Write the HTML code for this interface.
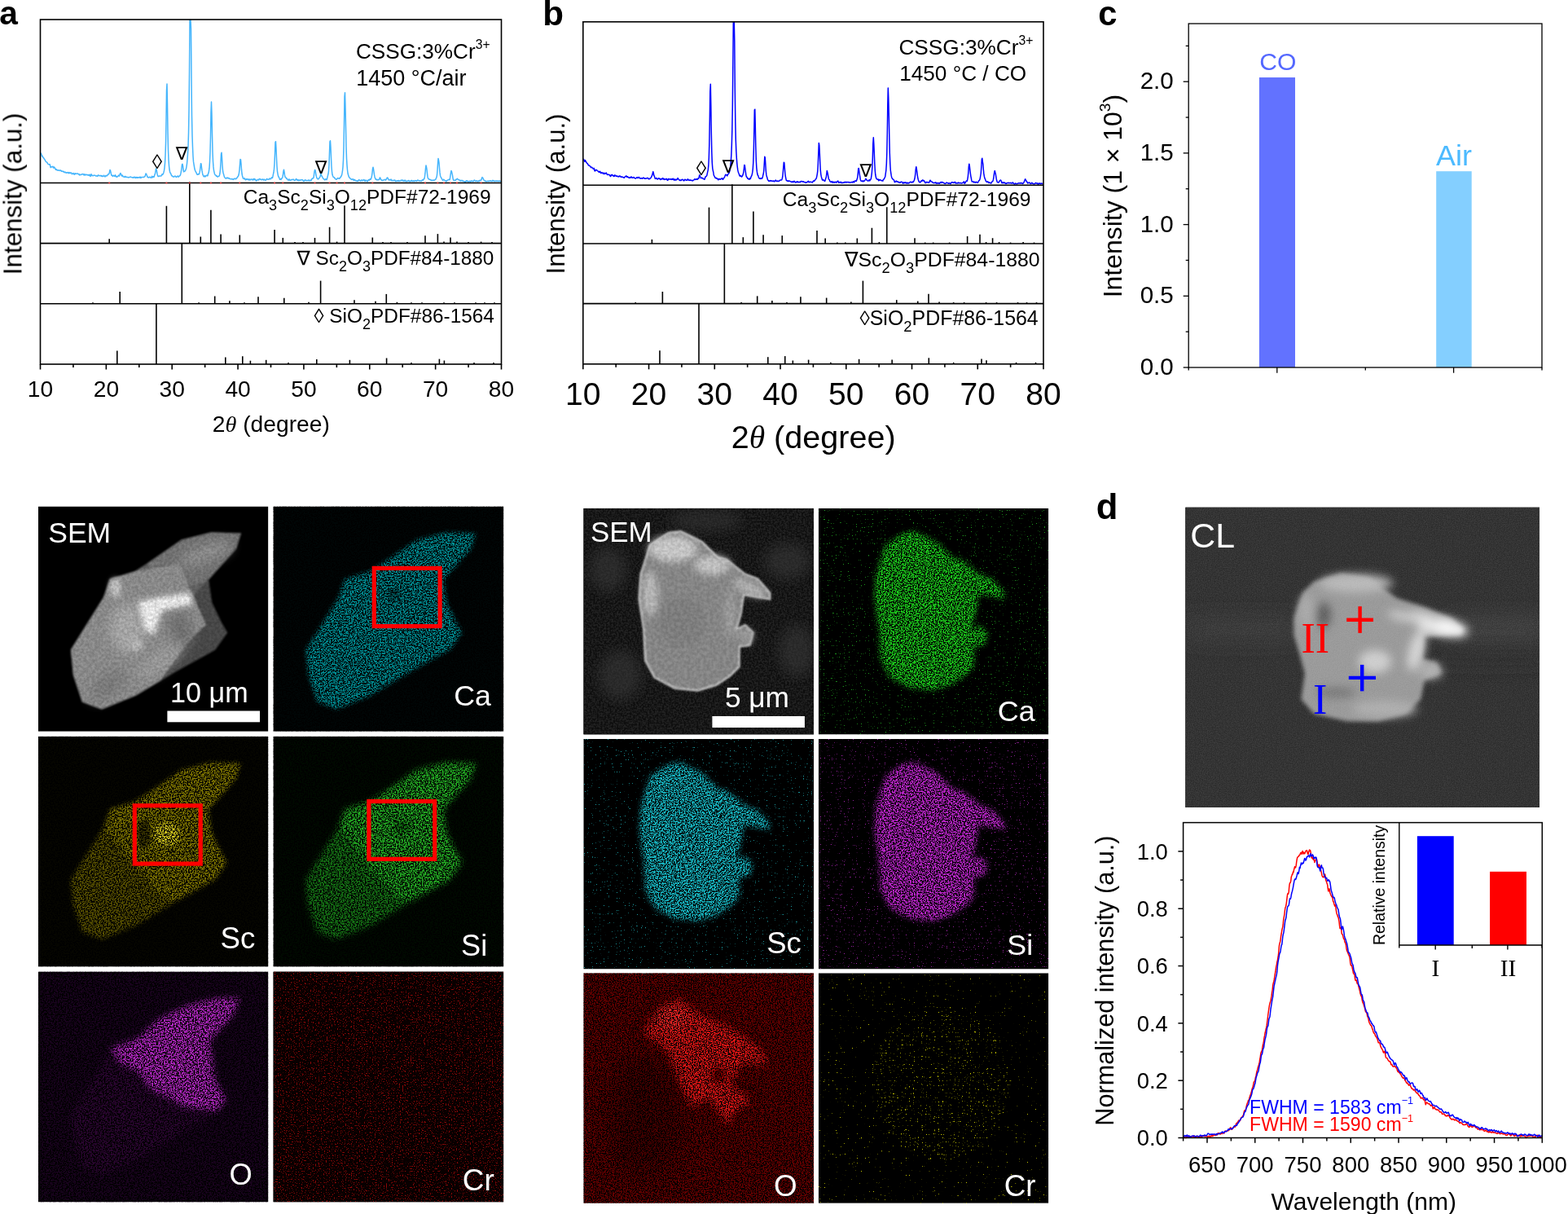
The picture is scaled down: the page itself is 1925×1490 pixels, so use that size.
<!DOCTYPE html>
<html><head><meta charset="utf-8"><title>Figure</title>
<style>html,body{margin:0;padding:0;background:#fff;}svg{display:block;}</style>
</head><body>
<svg width="1925" height="1490" viewBox="0 0 1925 1490">
<defs>
<clipPath id="cp1"><rect x="46.9" y="621.5" width="282.50" height="276.30"/></clipPath>
<filter id="bl1" filterUnits="userSpaceOnUse" x="41.9" y="616.5" width="292.5" height="286.29999999999995"><feGaussianBlur stdDeviation="1.2"/></filter>
<filter id="bl2" filterUnits="userSpaceOnUse" x="41.9" y="616.5" width="292.5" height="286.29999999999995"><feGaussianBlur stdDeviation="3"/></filter>
<filter id="bl3" filterUnits="userSpaceOnUse" x="41.9" y="616.5" width="292.5" height="286.29999999999995"><feGaussianBlur stdDeviation="7"/></filter>
<filter id="md4" filterUnits="userSpaceOnUse" x="46.9" y="621.5" width="282.5" height="276.29999999999995" color-interpolation-filters="sRGB"><feGaussianBlur in="SourceGraphic" stdDeviation="0" result="b"/><feTurbulence type="fractalNoise" baseFrequency="0.3" numOctaves="3" seed="5" result="t"/><feColorMatrix in="t" type="matrix" values="0 0 0 0 0 0 0 0 0 0 0 0 0 0 0 2.0 0 0 0 -0.5" result="m"/><feComposite in="b" in2="m" operator="in"/></filter>
<clipPath id="cp2"><rect x="335.4" y="621.5" width="282.90" height="276.30"/></clipPath>
<filter id="md5" filterUnits="userSpaceOnUse" x="335.4" y="621.5" width="282.9" height="276.29999999999995" color-interpolation-filters="sRGB"><feGaussianBlur in="SourceGraphic" stdDeviation="2.5" result="b"/><feTurbulence type="fractalNoise" baseFrequency="0.6" numOctaves="2" seed="11" result="t"/><feColorMatrix in="t" type="matrix" values="0 0 0 0 0 0 0 0 0 0 0 0 0 0 0 5.0 0 0 0 -2.0" result="m0"/><feGaussianBlur in="m0" stdDeviation="0.7" result="m"/><feComposite in="b" in2="m" operator="in"/></filter>
<clipPath id="cp3"><rect x="46.9" y="903.8" width="282.50" height="282.80"/></clipPath>
<filter id="md6" filterUnits="userSpaceOnUse" x="46.9" y="903.8" width="282.5" height="282.79999999999995" color-interpolation-filters="sRGB"><feGaussianBlur in="SourceGraphic" stdDeviation="2.5" result="b"/><feTurbulence type="fractalNoise" baseFrequency="0.6" numOctaves="2" seed="12" result="t"/><feColorMatrix in="t" type="matrix" values="0 0 0 0 0 0 0 0 0 0 0 0 0 0 0 5.0 0 0 0 -2.0" result="m0"/><feGaussianBlur in="m0" stdDeviation="0.7" result="m"/><feComposite in="b" in2="m" operator="in"/></filter>
<clipPath id="cp4"><rect x="335.4" y="903.8" width="282.90" height="282.80"/></clipPath>
<filter id="md7" filterUnits="userSpaceOnUse" x="335.4" y="903.8" width="282.9" height="282.79999999999995" color-interpolation-filters="sRGB"><feGaussianBlur in="SourceGraphic" stdDeviation="3.5" result="b"/><feTurbulence type="fractalNoise" baseFrequency="0.6" numOctaves="2" seed="13" result="t"/><feColorMatrix in="t" type="matrix" values="0 0 0 0 0 0 0 0 0 0 0 0 0 0 0 5.0 0 0 0 -2.0" result="m0"/><feGaussianBlur in="m0" stdDeviation="0.7" result="m"/><feComposite in="b" in2="m" operator="in"/></filter>
<clipPath id="cp5"><rect x="46.9" y="1192.4" width="282.50" height="283.00"/></clipPath>
<filter id="md8" filterUnits="userSpaceOnUse" x="46.9" y="1192.4" width="282.5" height="283.0" color-interpolation-filters="sRGB"><feGaussianBlur in="SourceGraphic" stdDeviation="3.5" result="b"/><feTurbulence type="fractalNoise" baseFrequency="0.6" numOctaves="2" seed="14" result="t"/><feColorMatrix in="t" type="matrix" values="0 0 0 0 0 0 0 0 0 0 0 0 0 0 0 5.0 0 0 0 -2.0" result="m0"/><feGaussianBlur in="m0" stdDeviation="0.7" result="m"/><feComposite in="b" in2="m" operator="in"/></filter>
<clipPath id="cp6"><rect x="335.4" y="1192.4" width="282.90" height="283.00"/></clipPath>
<filter id="md9" filterUnits="userSpaceOnUse" x="335.4" y="1192.4" width="282.9" height="283.0" color-interpolation-filters="sRGB"><feGaussianBlur in="SourceGraphic" stdDeviation="0" result="b"/><feTurbulence type="fractalNoise" baseFrequency="0.7" numOctaves="1" seed="31" result="t"/><feColorMatrix in="t" type="matrix" values="0 0 0 0 0 0 0 0 0 0 0 0 0 0 0 9 0 0 0 -5.2" result="m"/><feComposite in="b" in2="m" operator="in"/></filter>
<clipPath id="cp7"><rect x="716.3" y="623.8" width="282.70" height="277.80"/></clipPath>
<filter id="bl10" filterUnits="userSpaceOnUse" x="711.3" y="618.8" width="292.70000000000005" height="287.80000000000007"><feGaussianBlur stdDeviation="1.0"/></filter>
<filter id="bl11" filterUnits="userSpaceOnUse" x="711.3" y="618.8" width="292.70000000000005" height="287.80000000000007"><feGaussianBlur stdDeviation="5"/></filter>
<filter id="bl12" filterUnits="userSpaceOnUse" x="711.3" y="618.8" width="292.70000000000005" height="287.80000000000007"><feGaussianBlur stdDeviation="8"/></filter>
<filter id="md13" filterUnits="userSpaceOnUse" x="716.3" y="623.8" width="282.70000000000005" height="277.80000000000007" color-interpolation-filters="sRGB"><feGaussianBlur in="SourceGraphic" stdDeviation="0" result="b"/><feTurbulence type="fractalNoise" baseFrequency="0.45" numOctaves="2" seed="41" result="t"/><feColorMatrix in="t" type="matrix" values="0 0 0 0 0 0 0 0 0 0 0 0 0 0 0 3.0 0 0 0 -1.0" result="m"/><feComposite in="b" in2="m" operator="in"/></filter>
<filter id="md14" filterUnits="userSpaceOnUse" x="716.3" y="623.8" width="282.70000000000005" height="277.80000000000007" color-interpolation-filters="sRGB"><feGaussianBlur in="SourceGraphic" stdDeviation="0" result="b"/><feTurbulence type="fractalNoise" baseFrequency="0.25" numOctaves="3" seed="43" result="t"/><feColorMatrix in="t" type="matrix" values="0 0 0 0 0 0 0 0 0 0 0 0 0 0 0 2.4 0 0 0 -0.7" result="m"/><feComposite in="b" in2="m" operator="in"/></filter>
<clipPath id="cp8"><rect x="1004.8" y="623.8" width="282.50" height="277.80"/></clipPath>
<filter id="md15" filterUnits="userSpaceOnUse" x="1004.8" y="623.8" width="282.5" height="277.80000000000007" color-interpolation-filters="sRGB"><feGaussianBlur in="SourceGraphic" stdDeviation="3.0" result="b"/><feTurbulence type="fractalNoise" baseFrequency="0.62" numOctaves="2" seed="51" result="t"/><feColorMatrix in="t" type="matrix" values="0 0 0 0 0 0 0 0 0 0 0 0 0 0 0 5.5 0 0 0 -2.25" result="m0"/><feGaussianBlur in="m0" stdDeviation="0.6" result="m"/><feComposite in="b" in2="m" operator="in"/></filter>
<filter id="md16" filterUnits="userSpaceOnUse" x="1004.8" y="623.8" width="282.5" height="277.80000000000007" color-interpolation-filters="sRGB"><feGaussianBlur in="SourceGraphic" stdDeviation="0" result="b"/><feTurbulence type="fractalNoise" baseFrequency="0.8" numOctaves="1" seed="101" result="t"/><feColorMatrix in="t" type="matrix" values="0 0 0 0 0 0 0 0 0 0 0 0 0 0 0 14 0 0 0 -9.6" result="m"/><feComposite in="b" in2="m" operator="in"/></filter>
<clipPath id="cp9"><rect x="716.3" y="907" width="282.70" height="282.50"/></clipPath>
<filter id="md17" filterUnits="userSpaceOnUse" x="716.3" y="907" width="282.70000000000005" height="282.5" color-interpolation-filters="sRGB"><feGaussianBlur in="SourceGraphic" stdDeviation="3.0" result="b"/><feTurbulence type="fractalNoise" baseFrequency="0.62" numOctaves="2" seed="52" result="t"/><feColorMatrix in="t" type="matrix" values="0 0 0 0 0 0 0 0 0 0 0 0 0 0 0 5.5 0 0 0 -2.25" result="m0"/><feGaussianBlur in="m0" stdDeviation="0.6" result="m"/><feComposite in="b" in2="m" operator="in"/></filter>
<filter id="md18" filterUnits="userSpaceOnUse" x="716.3" y="907" width="282.70000000000005" height="282.5" color-interpolation-filters="sRGB"><feGaussianBlur in="SourceGraphic" stdDeviation="0" result="b"/><feTurbulence type="fractalNoise" baseFrequency="0.8" numOctaves="1" seed="102" result="t"/><feColorMatrix in="t" type="matrix" values="0 0 0 0 0 0 0 0 0 0 0 0 0 0 0 14 0 0 0 -9.6" result="m"/><feComposite in="b" in2="m" operator="in"/></filter>
<clipPath id="cp10"><rect x="1004.8" y="907" width="282.50" height="282.50"/></clipPath>
<filter id="md19" filterUnits="userSpaceOnUse" x="1004.8" y="907" width="282.5" height="282.5" color-interpolation-filters="sRGB"><feGaussianBlur in="SourceGraphic" stdDeviation="3.0" result="b"/><feTurbulence type="fractalNoise" baseFrequency="0.62" numOctaves="2" seed="53" result="t"/><feColorMatrix in="t" type="matrix" values="0 0 0 0 0 0 0 0 0 0 0 0 0 0 0 5.5 0 0 0 -2.25" result="m0"/><feGaussianBlur in="m0" stdDeviation="0.6" result="m"/><feComposite in="b" in2="m" operator="in"/></filter>
<filter id="md20" filterUnits="userSpaceOnUse" x="1004.8" y="907" width="282.5" height="282.5" color-interpolation-filters="sRGB"><feGaussianBlur in="SourceGraphic" stdDeviation="0" result="b"/><feTurbulence type="fractalNoise" baseFrequency="0.8" numOctaves="1" seed="103" result="t"/><feColorMatrix in="t" type="matrix" values="0 0 0 0 0 0 0 0 0 0 0 0 0 0 0 14 0 0 0 -9.6" result="m"/><feComposite in="b" in2="m" operator="in"/></filter>
<clipPath id="cp11"><rect x="716.3" y="1194.3" width="282.70" height="282.50"/></clipPath>
<filter id="bl21" filterUnits="userSpaceOnUse" x="711.3" y="1189.3" width="292.70000000000005" height="292.5"><feGaussianBlur stdDeviation="14"/></filter>
<filter id="bl22" filterUnits="userSpaceOnUse" x="711.3" y="1189.3" width="292.70000000000005" height="292.5"><feGaussianBlur stdDeviation="5"/></filter>
<filter id="md23" filterUnits="userSpaceOnUse" x="716.3" y="1194.3" width="282.70000000000005" height="282.5" color-interpolation-filters="sRGB"><feGaussianBlur in="SourceGraphic" stdDeviation="0" result="b"/><feTurbulence type="fractalNoise" baseFrequency="0.7" numOctaves="2" seed="61" result="t"/><feColorMatrix in="t" type="matrix" values="0 0 0 0 0 0 0 0 0 0 0 0 0 0 0 5.0 0 0 0 -2.0" result="m0"/><feGaussianBlur in="m0" stdDeviation="0.5" result="m"/><feComposite in="b" in2="m" operator="in"/></filter>
<clipPath id="cp12"><rect x="1004.8" y="1194.3" width="282.50" height="282.50"/></clipPath>
<filter id="bl24" filterUnits="userSpaceOnUse" x="999.8" y="1189.3" width="292.5" height="292.5"><feGaussianBlur stdDeviation="25"/></filter>
<filter id="md25" filterUnits="userSpaceOnUse" x="1004.8" y="1194.3" width="282.5" height="282.5" color-interpolation-filters="sRGB"><feGaussianBlur in="SourceGraphic" stdDeviation="0" result="b"/><feTurbulence type="fractalNoise" baseFrequency="0.8" numOctaves="1" seed="71" result="t"/><feColorMatrix in="t" type="matrix" values="0 0 0 0 0 0 0 0 0 0 0 0 0 0 0 14 0 0 0 -10.0" result="m"/><feComposite in="b" in2="m" operator="in"/></filter>
<filter id="md26" filterUnits="userSpaceOnUse" x="1004.8" y="1194.3" width="282.5" height="282.5" color-interpolation-filters="sRGB"><feGaussianBlur in="SourceGraphic" stdDeviation="0" result="b"/><feTurbulence type="fractalNoise" baseFrequency="0.8" numOctaves="1" seed="72" result="t"/><feColorMatrix in="t" type="matrix" values="0 0 0 0 0 0 0 0 0 0 0 0 0 0 0 14 0 0 0 -9.6" result="m"/><feComposite in="b" in2="m" operator="in"/></filter>
<clipPath id="cp13"><rect x="1455.2" y="622.5" width="434.90" height="368.50"/></clipPath>
<filter id="bl27" filterUnits="userSpaceOnUse" x="1450.2" y="617.5" width="444.89999999999986" height="378.5"><feGaussianBlur stdDeviation="2.5"/></filter>
<filter id="bl28" filterUnits="userSpaceOnUse" x="1450.2" y="617.5" width="444.89999999999986" height="378.5"><feGaussianBlur stdDeviation="6"/></filter>
<filter id="bl29" filterUnits="userSpaceOnUse" x="1450.2" y="617.5" width="444.89999999999986" height="378.5"><feGaussianBlur stdDeviation="15"/></filter>
<filter id="md30" filterUnits="userSpaceOnUse" x="1455.2" y="622.5" width="434.89999999999986" height="368.5" color-interpolation-filters="sRGB"><feGaussianBlur in="SourceGraphic" stdDeviation="0" result="b"/><feTurbulence type="fractalNoise" baseFrequency="0.8" numOctaves="2" seed="81" result="t"/><feColorMatrix in="t" type="matrix" values="0 0 0 0 0 0 0 0 0 0 0 0 0 0 0 2.0 0 0 0 -0.5" result="m"/><feComposite in="b" in2="m" operator="in"/></filter>
</defs>
<rect width="1925" height="1490" fill="#fff"/>
<g clip-path="url(#cp1)"><rect x="46.9" y="621.5" width="282.50" height="276.30" fill="#000"/><g filter="url(#bl1)"><path d="M86.9,797.5 L126.9,733.5 L134.9,710.5 L164.9,701.5 L180.9,691.5 L222.9,662.5 L258.9,653.5 L295.9,654.5 L289.9,673.5 L255.9,711.5 L259.9,739.5 L271.9,764.5 L278.9,776.5 L263.9,797.5 L214.9,824.5 L166.9,853.5 L124.9,870.5 L100.9,861.5 L89.9,828.5Z" fill="#6a6a6a"/><path d="M180.9,691.5 L222.9,662.5 L258.9,653.5 L295.9,654.5 L289.9,673.5 L255.9,711.5 L236.9,717.5 L196.9,716.5Z" fill="#7c7c7c"/><path d="M86.9,797.5 L126.9,733.5 L134.9,710.5 L164.9,701.5 L196.9,696.5 L220.9,691.5 L233.9,725.5 L253.9,758.5 L252.9,766.5 L226.9,791.5 L196.9,835.5 L166.9,853.5 L124.9,870.5 L100.9,861.5 L89.9,828.5Z" fill="#969696"/><path d="M236.9,731.5 L255.9,711.5 L259.9,739.5 L271.9,764.5 L278.9,776.5 L263.9,797.5 L214.9,824.5 L196.9,835.5 L226.9,791.5 L252.9,766.5Z" fill="#505050"/></g><g filter="url(#bl3)"><ellipse cx="156.9" cy="771.5" rx="22" ry="30" fill="#b4b4b4"/><ellipse cx="251.9" cy="679.5" rx="34" ry="10" transform="rotate(-20 251.9 679.5)" fill="#9a9a9a"/><ellipse cx="196.9" cy="811.5" rx="34" ry="10" transform="rotate(-35 196.9 811.5)" fill="#a8a8a8"/><ellipse cx="131.9" cy="841.5" rx="26" ry="12" transform="rotate(-40 131.9 841.5)" fill="#848484"/><ellipse cx="221.9" cy="771.5" rx="14" ry="22" transform="rotate(-20 221.9 771.5)" fill="#7a7a7a"/></g><g filter="url(#bl2)"><path d="M168.9,738.5 L196.9,732.5 L232.9,727.5 L236.9,741.5 L198.9,749.5 L188.9,779.5 L177.9,773.5 Z" fill="#fafafa"/><ellipse cx="141.9" cy="721.5" rx="7" ry="12" fill="#d0d0d0"/><ellipse cx="166.9" cy="791.5" rx="9" ry="6" fill="#c8c8c8"/></g><g filter="url(#md4)" opacity="0.18"><path d="M86.9,797.5 L126.9,733.5 L134.9,710.5 L164.9,701.5 L180.9,691.5 L222.9,662.5 L258.9,653.5 L295.9,654.5 L289.9,673.5 L255.9,711.5 L259.9,739.5 L271.9,764.5 L278.9,776.5 L263.9,797.5 L214.9,824.5 L166.9,853.5 L124.9,870.5 L100.9,861.5 L89.9,828.5Z" fill="#000"/></g><rect x="205.4" y="872.5" width="113.6" height="13.8" fill="#fff"/></g>
<g clip-path="url(#cp2)"><rect x="335.4" y="621.5" width="282.90" height="276.30" fill="#000"/><g filter="url(#md5)"><rect x="335.4" y="621.5" width="282.90" height="276.30" fill="#000606"/><path d="M375.4,797.5 L415.4,733.5 L423.4,710.5 L453.4,701.5 L469.4,691.5 L511.4,662.5 L547.4,653.5 L584.4,654.5 L578.4,673.5 L544.4,711.5 L548.4,739.5 L560.4,764.5 L567.4,776.5 L552.4,797.5 L503.4,824.5 L455.4,853.5 L413.4,870.5 L389.4,861.5 L378.4,828.5Z" fill="#008e94"/><ellipse cx="483.4" cy="729.5" rx="10" ry="8" fill="#006064"/></g><rect x="459.3" y="697.4" width="80.8" height="71.2" fill="none" stroke="#f00" stroke-width="5.2"/></g>
<g clip-path="url(#cp3)"><rect x="46.9" y="903.8" width="282.50" height="282.80" fill="#000"/><g filter="url(#md6)"><rect x="46.9" y="903.8" width="282.50" height="282.80" fill="#060600"/><path d="M86.9,1079.8 L126.9,1015.8 L134.9,992.8 L164.9,983.8 L180.9,973.8 L222.9,944.8 L258.9,935.8 L295.9,936.8 L289.9,955.8 L255.9,993.8 L259.9,1021.8 L271.9,1046.8 L278.9,1058.8 L263.9,1079.8 L214.9,1106.8 L166.9,1135.8 L124.9,1152.8 L100.9,1143.8 L89.9,1110.8Z" fill="#807600"/><path d="M86.9,1079.8 L126.9,1015.8 L134.9,1023.8 L166.9,1063.8 L196.9,1098.8 L214.9,1106.8 L166.9,1135.8 L124.9,1152.8 L100.9,1143.8 L89.9,1110.8Z" fill="#5a5200"/><ellipse cx="204.9" cy="1023.8" rx="16" ry="14" fill="#d8cc20"/><ellipse cx="176.9" cy="1023.8" rx="8" ry="18" fill="#3a3500"/></g><rect x="165.3" y="988.8" width="80.9" height="71.3" fill="none" stroke="#f00" stroke-width="5.2"/></g>
<g clip-path="url(#cp4)"><rect x="335.4" y="903.8" width="282.90" height="282.80" fill="#000"/><g filter="url(#md7)"><rect x="335.4" y="903.8" width="282.90" height="282.80" fill="#000a00"/><path d="M375.4,1079.8 L415.4,1015.8 L423.4,992.8 L453.4,983.8 L469.4,973.8 L511.4,944.8 L547.4,935.8 L584.4,936.8 L578.4,955.8 L544.4,993.8 L548.4,1021.8 L560.4,1046.8 L567.4,1058.8 L552.4,1079.8 L503.4,1106.8 L455.4,1135.8 L413.4,1152.8 L389.4,1143.8 L378.4,1110.8Z" fill="#24b024"/><path d="M375.4,1079.8 L415.4,1015.8 L423.4,1023.8 L455.4,1063.8 L485.4,1098.8 L503.4,1106.8 L455.4,1135.8 L413.4,1152.8 L389.4,1143.8 L378.4,1110.8Z" fill="#167816"/><ellipse cx="493.4" cy="1015.8" rx="9" ry="8" fill="#0f700f"/></g><rect x="452.9" y="983.5" width="80.8" height="70.9" fill="none" stroke="#f00" stroke-width="5.2"/></g>
<g clip-path="url(#cp5)"><rect x="46.9" y="1192.4" width="282.50" height="283.00" fill="#000"/><g filter="url(#md8)"><rect x="46.9" y="1192.4" width="282.50" height="283.00" fill="#1a031f"/><path d="M86.9,1368.4 L126.9,1304.4 L134.9,1281.4 L164.9,1272.4 L180.9,1262.4 L222.9,1233.4 L258.9,1224.4 L295.9,1225.4 L289.9,1244.4 L255.9,1282.4 L259.9,1310.4 L271.9,1335.4 L278.9,1347.4 L263.9,1368.4 L214.9,1395.4 L166.9,1424.4 L124.9,1441.4 L100.9,1432.4 L89.9,1399.4Z" fill="#2c0632"/><path d="M136.6,1286.3 L169.3,1274.8 L192.4,1251.7 L229.0,1234.3 L267.6,1224.7 L294.6,1224.7 L284.9,1247.8 L257.9,1276.7 L263.7,1324.9 L277.2,1349.9 L267.6,1363.4 L229.0,1359.6 L184.7,1336.4 L169.3,1315.2 L146.2,1303.7Z" fill="#b828c8"/></g></g>
<g clip-path="url(#cp6)"><rect x="335.4" y="1192.4" width="282.90" height="283.00" fill="#000"/><rect x="335.4" y="1192.4" width="282.9" height="283.0" fill="#080000"/><g filter="url(#md9)"><rect x="335.4" y="1192.4" width="282.90" height="283.00" fill="#8a0808"/></g></g>
<g clip-path="url(#cp7)"><rect x="716.3" y="623.8" width="282.70" height="277.80" fill="#000"/><rect x="716.3" y="623.8" width="282.70" height="277.80" fill="#0e0e0e"/><g filter="url(#bl12)" fill="#262626"><ellipse cx="746.3" cy="698.8" rx="22" ry="28"/><ellipse cx="761.3" cy="828.8" rx="26" ry="30"/><ellipse cx="966.3" cy="688.8" rx="28" ry="22"/><ellipse cx="978.3" cy="798.8" rx="22" ry="32"/><ellipse cx="866.3" cy="638.8" rx="45" ry="12"/></g><g filter="url(#md13)" opacity="0.45"><rect x="716.3" y="623.8" width="282.70" height="277.80" fill="#3c3c3c"/></g><g filter="url(#bl10)"><path d="M786.7,705.0 L798.0,669.2 L820.6,654.1 L835.7,652.2 L862.1,665.4 L881.0,684.2 L892.3,687.1 L914.9,705.0 L930.0,710.6 L945.1,727.6 L945.1,735.2 L913.0,729.5 L909.3,754.0 L903.6,772.9 L914.9,767.2 L924.4,776.7 L920.6,791.7 L907.4,793.6 L907.4,818.2 L896.1,829.5 L879.1,840.8 L856.5,847.4 L828.2,844.6 L803.6,831.4 L792.3,810.6 L790.4,772.9 L784.8,735.2Z" fill="#8e8e8e" stroke="#c8c8c8" stroke-width="2.5"/></g><g filter="url(#bl11)"><ellipse cx="826.3" cy="673.8" rx="30" ry="16" fill="#d2d2d2"/><ellipse cx="874.3" cy="693.8" rx="22" ry="12" fill="#cccccc"/><ellipse cx="798.3" cy="728.8" rx="9" ry="28" fill="#c4c4c4"/><ellipse cx="919.3" cy="721.8" rx="22" ry="7" transform="rotate(25 919.3 721.8)" fill="#c0c0c0"/><ellipse cx="896.3" cy="753.8" rx="6" ry="30" fill="#a8a8a8"/><ellipse cx="916.3" cy="780.8" rx="8" ry="8" fill="#a8a8a8"/><ellipse cx="836.3" cy="763.8" rx="30" ry="30" fill="#868686"/></g><g filter="url(#md14)" opacity="0.12"><path d="M786.7,705.0 L798.0,669.2 L820.6,654.1 L835.7,652.2 L862.1,665.4 L881.0,684.2 L892.3,687.1 L914.9,705.0 L930.0,710.6 L945.1,727.6 L945.1,735.2 L913.0,729.5 L909.3,754.0 L903.6,772.9 L914.9,767.2 L924.4,776.7 L920.6,791.7 L907.4,793.6 L907.4,818.2 L896.1,829.5 L879.1,840.8 L856.5,847.4 L828.2,844.6 L803.6,831.4 L792.3,810.6 L790.4,772.9 L784.8,735.2Z" fill="#000"/></g><rect x="874.4" y="879" width="113.5" height="14" fill="#fff"/></g>
<g clip-path="url(#cp8)"><rect x="1004.8" y="623.8" width="282.50" height="277.80" fill="#000"/><g filter="url(#md16)"><rect x="1004.8" y="623.8" width="282.50" height="277.80" fill="#1f9a1f"/></g><g filter="url(#md15)"><path d="M1075.2,705.0 L1086.5,669.2 L1109.1,654.1 L1124.2,652.2 L1150.6,665.4 L1169.5,684.2 L1180.8,687.1 L1203.4,705.0 L1218.5,710.6 L1233.6,727.6 L1233.6,735.2 L1201.5,729.5 L1197.8,754.0 L1192.1,772.9 L1203.4,767.2 L1212.9,776.7 L1209.1,791.7 L1195.9,793.6 L1195.9,818.2 L1184.6,829.5 L1167.6,840.8 L1145.0,847.4 L1116.7,844.6 L1092.1,831.4 L1080.8,810.6 L1078.9,772.9 L1073.3,735.2Z" fill="#1ccc1c"/></g></g>
<g clip-path="url(#cp9)"><rect x="716.3" y="907" width="282.70" height="282.50" fill="#000"/><g filter="url(#md18)"><rect x="716.3" y="907" width="282.70" height="282.50" fill="#1a9aa0"/></g><g filter="url(#md17)"><path d="M786.7,988.2 L798.0,952.4 L820.6,937.3 L835.7,935.4 L862.1,948.6 L881.0,967.4 L892.3,970.3 L914.9,988.2 L930.0,993.8 L945.1,1010.8 L945.1,1018.4 L913.0,1012.7 L909.3,1037.2 L903.6,1056.1 L914.9,1050.4 L924.4,1059.9 L920.6,1074.9 L907.4,1076.8 L907.4,1101.4 L896.1,1112.7 L879.1,1124.0 L856.5,1130.6 L828.2,1127.8 L803.6,1114.6 L792.3,1093.8 L790.4,1056.1 L784.8,1018.4Z" fill="#18bcc8"/></g></g>
<g clip-path="url(#cp10)"><rect x="1004.8" y="907" width="282.50" height="282.50" fill="#000"/><g filter="url(#md20)"><rect x="1004.8" y="907" width="282.50" height="282.50" fill="#a024aa"/></g><g filter="url(#md19)"><path d="M1075.2,988.2 L1086.5,952.4 L1109.1,937.3 L1124.2,935.4 L1150.6,948.6 L1169.5,967.4 L1180.8,970.3 L1203.4,988.2 L1218.5,993.8 L1233.6,1010.8 L1233.6,1018.4 L1201.5,1012.7 L1197.8,1037.2 L1192.1,1056.1 L1203.4,1050.4 L1212.9,1059.9 L1209.1,1074.9 L1195.9,1076.8 L1195.9,1101.4 L1184.6,1112.7 L1167.6,1124.0 L1145.0,1130.6 L1116.7,1127.8 L1092.1,1114.6 L1080.8,1093.8 L1078.9,1056.1 L1073.3,1018.4Z" fill="#c026d0"/></g></g>
<g clip-path="url(#cp11)"><rect x="716.3" y="1194.3" width="282.70" height="282.50" fill="#000"/><g filter="url(#md23)"><rect x="716.3" y="1194.3" width="282.70" height="282.50" fill="#680000"/><g filter="url(#bl21)"><ellipse cx="791.3" cy="1369.3" rx="45" ry="75" fill="#4a0000"/><ellipse cx="916.3" cy="1234.3" rx="50" ry="25" fill="#700000"/></g><g filter="url(#bl22)"><path d="M810.6,1236.8 L834.5,1224.9 L855.4,1242.8 L900.2,1263.7 L930.0,1284.6 L945.0,1305.5 L909.1,1305.5 L897.2,1332.4 L912.1,1341.3 L921.1,1353.3 L900.2,1365.2 L894.2,1383.2 L870.3,1347.3 L849.4,1359.3 L837.5,1335.4 L819.5,1290.6 L789.7,1266.7Z" fill="#f01818"/><ellipse cx="882.3" cy="1319.3" rx="10" ry="12" fill="#700000"/><ellipse cx="824.3" cy="1249.3" rx="20" ry="14" fill="#ff2626"/></g></g></g>
<g clip-path="url(#cp12)"><rect x="1004.8" y="1194.3" width="282.50" height="282.50" fill="#000"/><g filter="url(#md25)"><rect x="1004.8" y="1194.3" width="282.50" height="282.50" fill="#c8c800"/></g><g filter="url(#md26)"><ellipse cx="1154.8" cy="1329.3" rx="85" ry="95" fill="#c8c800"/></g></g>
<g clip-path="url(#cp13)"><rect x="1455.2" y="622.5" width="434.90" height="368.50" fill="#000"/><rect x="1455.2" y="622.5" width="434.90" height="368.50" fill="#2b2b2b"/><g filter="url(#bl29)"><rect x="1455.2" y="764" width="140" height="16" fill="#3c3c3c"/><rect x="1780" y="765" width="120" height="13" fill="#4e4e4e"/><rect x="1750" y="784" width="150" height="24" fill="#272727"/></g><g filter="url(#bl27)"><path d="M1588.3,758.8 L1599.6,727.1 L1613.2,713.6 L1647.1,703.4 L1681.0,709.0 L1714.9,733.9 L1748.8,745.2 L1782.7,758.8 L1796.3,772.3 L1794.0,779.1 L1748.8,781.4 L1746.5,808.5 L1764.6,813.0 L1769.1,826.6 L1748.8,835.6 L1744.3,858.2 L1726.2,876.3 L1692.3,885.3 L1653.9,885.3 L1613.2,876.3 L1597.4,858.2 L1601.9,826.6 L1595.1,801.7 L1588.3,779.1Z" fill="#969696"/></g><g filter="url(#bl28)"><ellipse cx="1770" cy="769" rx="33" ry="11" transform="rotate(12 1770 769)" fill="#f6f6f6"/><ellipse cx="1748" cy="760" rx="22" ry="8" transform="rotate(15 1748 760)" fill="#dedede"/><ellipse cx="1725" cy="757" rx="22" ry="6" transform="rotate(12 1725 757)" fill="#c8c8c8"/><ellipse cx="1688" cy="812" rx="20" ry="14" fill="#cccccc"/><ellipse cx="1739" cy="798" rx="9" ry="26" transform="rotate(15 1739 798)" fill="#d4d4d4"/><ellipse cx="1757" cy="824" rx="14" ry="9" fill="#b0b0b0"/><ellipse cx="1604" cy="750" rx="9" ry="20" fill="#a8a8a8"/><ellipse cx="1625" cy="755" rx="9" ry="16" fill="#585858"/><ellipse cx="1665" cy="716" rx="45" ry="11" fill="#b8b8b8"/><ellipse cx="1700" cy="870" rx="40" ry="10" fill="#acacac"/><ellipse cx="1640" cy="850" rx="25" ry="6" fill="#707070"/></g><g filter="url(#md30)" opacity="0.09"><rect x="1455.2" y="622.5" width="434.90" height="368.50" fill="#ffffff"/></g><g stroke-width="4.4"><line x1="1653.2" y1="760.7" x2="1685.9" y2="760.7" stroke="#f00"/><line x1="1669.6" y1="744.2" x2="1669.6" y2="776.9" stroke="#f00"/><line x1="1655.8" y1="831.9" x2="1689" y2="831.9" stroke="#00f"/><line x1="1672.2" y1="815.9" x2="1672.2" y2="848.3" stroke="#00f"/></g></g>
<polyline points="50.0,187.8 50.5,188.4 51.0,190.0 51.5,191.7 52.0,191.4 52.5,192.3 53.0,193.6 53.5,193.8 54.0,194.5 54.5,195.3 55.0,196.1 55.5,196.7 56.0,198.0 56.5,198.5 57.0,198.9 57.5,198.9 58.0,199.7 58.5,200.7 59.0,201.4 59.5,201.6 60.0,201.8 60.5,202.0 61.0,201.6 61.5,202.6 62.0,205.3 62.5,205.6 63.0,204.7 63.5,204.7 64.0,204.7 64.5,204.5 65.0,204.3 65.5,206.1 66.0,206.1 66.5,205.0 67.0,205.6 67.5,206.4 68.0,207.6 68.5,208.4 69.0,207.8 69.5,207.9 70.0,208.9 70.5,208.9 71.0,208.8 71.5,209.2 72.0,209.1 72.5,209.0 73.0,209.2 73.5,209.5 74.0,209.1 74.5,209.0 75.0,209.6 75.5,210.3 76.0,210.0 76.5,210.3 77.0,210.2 77.5,210.8 78.0,210.4 78.5,210.9 79.0,211.7 79.5,211.5 80.0,211.2 80.5,211.3 81.0,212.1 81.5,212.3 82.0,211.8 82.5,211.9 83.0,211.6 83.5,211.7 84.0,212.8 84.5,212.0 85.0,211.5 85.5,212.4 86.0,212.7 86.5,212.1 87.0,212.0 87.5,212.1 88.0,213.0 88.5,213.7 89.0,213.2 89.5,213.0 90.0,212.6 90.5,213.1 91.0,214.2 91.5,214.0 92.0,212.8 92.5,212.8 93.0,213.6 93.5,213.4 94.0,213.1 94.5,213.0 95.0,212.9 95.5,213.3 96.0,213.7 96.5,213.7 97.0,213.6 97.5,214.9 98.0,214.4 98.5,214.2 99.0,214.7 99.5,214.2 100.0,214.2 100.5,213.8 101.0,213.9 101.5,213.6 102.0,213.4 102.5,214.0 103.0,215.0 103.5,215.0 104.0,213.7 104.5,214.3 105.0,214.9 105.5,214.6 106.0,214.5 106.5,214.2 107.0,214.5 107.5,214.8 108.0,215.0 108.5,214.8 109.0,215.2 109.5,214.4 110.0,214.2 110.5,215.9 111.0,216.5 111.5,214.6 112.0,213.7 112.5,215.3 113.0,215.8 113.5,215.2 114.0,215.6 114.5,215.7 115.0,215.4 115.5,215.1 116.0,215.3 116.5,215.2 117.0,215.5 117.5,215.9 118.0,215.9 118.5,216.0 119.0,215.8 119.5,216.3 120.0,216.0 120.5,214.9 121.0,215.3 121.5,215.5 122.0,215.4 122.5,215.8 123.0,215.8 123.5,215.4 124.0,215.7 124.5,216.1 125.0,215.6 125.5,216.1 126.0,216.6 126.5,216.5 127.0,215.9 127.5,215.2 128.0,216.1 128.5,216.3 129.0,216.9 129.5,216.0 130.0,215.4 130.5,215.8 131.0,216.0 131.5,215.5 132.0,214.9 132.5,214.4 133.0,213.6 133.5,213.8 134.0,213.1 134.5,210.8 135.0,208.6 135.5,209.2 136.0,211.5 136.5,213.7 137.0,215.3 137.5,215.1 138.0,215.9 138.5,216.4 139.0,215.6 139.5,215.2 140.0,215.7 140.5,216.2 141.0,216.3 141.5,214.8 142.0,215.6 142.5,217.0 143.0,217.0 143.5,216.7 144.0,217.1 144.5,216.5 145.0,216.2 145.5,215.2 146.0,215.3 146.5,216.1 147.0,214.4 147.5,213.2 148.0,212.5 148.5,213.7 149.0,215.1 149.5,216.0 150.0,215.1 150.5,215.3 151.0,216.8 151.5,216.8 152.0,217.1 152.5,217.2 153.0,217.3 153.5,216.4 154.0,217.2 154.5,217.3 155.0,217.0 155.5,217.4 156.0,217.5 156.5,217.5 157.0,217.5 157.5,217.9 158.0,217.7 158.5,217.5 159.0,217.5 159.5,217.4 160.0,217.3 160.5,217.0 161.0,217.4 161.5,217.6 162.0,217.8 162.5,218.0 163.0,218.1 163.5,217.6 164.0,218.1 164.5,218.0 165.0,217.3 165.5,217.3 166.0,218.0 166.5,218.5 167.0,217.6 167.5,217.6 168.0,218.1 168.5,217.5 169.0,218.0 169.5,218.3 170.0,217.8 170.5,217.6 171.0,217.8 171.5,218.1 172.0,217.0 172.5,217.9 173.0,218.4 173.5,217.6 174.0,217.6 174.5,217.5 175.0,217.6 175.5,217.5 176.0,217.4 176.5,217.5 177.0,216.9 177.5,217.0 178.0,216.6 178.5,214.9 179.0,213.1 179.5,213.2 180.0,214.5 180.5,215.6 181.0,217.4 181.5,217.7 182.0,217.5 182.5,218.0 183.0,217.6 183.5,217.3 184.0,217.2 184.5,217.9 185.0,217.9 185.5,217.9 186.0,218.1 186.5,216.3 187.0,217.3 187.5,217.6 188.0,216.7 188.5,217.0 189.0,217.3 189.5,215.7 190.0,214.3 190.5,213.1 191.0,210.0 191.5,206.9 192.0,208.0 192.5,210.4 193.0,213.2 193.5,215.4 194.0,216.5 194.5,216.6 195.0,216.6 195.5,216.0 196.0,216.0 196.5,215.9 197.0,216.0 197.5,216.0 198.0,216.0 198.5,214.9 199.0,213.9 199.5,214.4 200.0,214.0 200.5,212.9 201.0,211.5 201.5,209.4 202.0,205.8 202.5,200.4 203.0,190.9 203.5,175.7 204.0,147.6 204.5,111.1 205.0,103.0 205.5,127.2 206.0,161.2 206.5,184.1 207.0,196.2 207.5,203.3 208.0,208.0 208.5,210.5 209.0,212.4 209.5,212.6 210.0,213.9 210.5,215.2 211.0,215.9 211.5,216.0 212.0,216.3 212.5,217.0 213.0,217.1 213.5,216.9 214.0,216.8 214.5,216.2 215.0,216.1 215.5,216.6 216.0,216.9 216.5,217.4 217.0,216.8 217.5,216.6 218.0,216.2 218.5,216.1 219.0,217.3 219.5,216.7 220.0,216.4 220.5,215.7 221.0,215.7 221.5,214.6 222.0,212.5 222.5,209.8 223.0,206.0 223.5,201.9 224.0,201.3 224.5,203.7 225.0,208.0 225.5,210.8 226.0,210.6 226.5,210.3 227.0,210.0 227.5,209.5 228.0,208.2 228.5,207.1 229.0,204.3 229.5,201.1 230.0,195.8 230.5,188.9 231.0,179.7 231.5,163.3 232.0,135.6 232.5,89.1 233.0,24.6 233.5,24.6 234.0,24.6 234.5,35.2 235.0,96.1 235.5,141.3 236.0,166.2 236.5,180.5 237.0,191.8 237.5,198.4 238.0,201.6 238.5,204.5 239.0,207.6 239.5,209.1 240.0,210.3 240.5,210.9 241.0,212.2 241.5,212.9 242.0,214.2 242.5,214.4 243.0,214.2 243.5,213.6 244.0,213.7 244.5,213.7 245.0,211.9 245.5,209.3 246.0,205.4 246.5,200.7 247.0,201.1 247.5,205.6 248.0,209.4 248.5,212.4 249.0,214.5 249.5,215.3 250.0,216.6 250.5,216.8 251.0,216.4 251.5,215.8 252.0,216.9 252.5,216.3 253.0,215.6 253.5,215.4 254.0,215.1 254.5,215.9 255.0,215.7 255.5,213.5 256.0,212.3 256.5,210.0 257.0,206.2 257.5,198.7 258.0,187.5 258.5,168.0 259.0,138.0 259.5,125.1 260.0,140.1 260.5,165.3 261.0,186.1 261.5,197.9 262.0,204.9 262.5,209.1 263.0,211.3 263.5,213.5 264.0,214.5 264.5,214.8 265.0,215.2 265.5,216.1 266.0,215.8 266.5,216.4 267.0,217.0 267.5,217.1 268.0,216.4 268.5,216.2 269.0,216.2 269.5,215.0 270.0,212.5 270.5,208.0 271.0,199.3 271.5,189.1 272.0,187.3 272.5,193.9 273.0,203.0 273.5,209.1 274.0,212.1 274.5,213.7 275.0,215.6 275.5,217.2 276.0,217.9 276.5,218.6 277.0,219.0 277.5,219.0 278.0,218.6 278.5,218.1 279.0,218.7 279.5,218.3 280.0,218.3 280.5,218.9 281.0,218.6 281.5,219.0 282.0,219.6 282.5,219.6 283.0,219.6 283.5,219.8 284.0,219.8 284.5,219.6 285.0,219.6 285.5,220.1 286.0,220.1 286.5,220.4 287.0,219.7 287.5,219.3 288.0,219.4 288.5,219.3 289.0,219.3 289.5,219.7 290.0,219.4 290.5,218.7 291.0,218.1 291.5,217.6 292.0,216.5 292.5,216.4 293.0,214.8 293.5,212.2 294.0,208.6 294.5,202.0 295.0,195.5 295.5,195.9 296.0,201.1 296.5,208.2 297.0,213.0 297.5,215.7 298.0,217.3 298.5,219.0 299.0,218.8 299.5,219.2 300.0,219.6 300.5,218.9 301.0,220.2 301.5,220.7 302.0,220.5 302.5,219.8 303.0,220.2 303.5,219.8 304.0,219.7 304.5,220.2 305.0,220.9 305.5,220.5 306.0,219.8 306.5,220.8 307.0,221.0 307.5,220.5 308.0,220.0 308.5,220.1 309.0,220.2 309.5,220.7 310.0,220.1 310.5,220.3 311.0,220.9 311.5,219.7 312.0,219.3 312.5,220.5 313.0,220.4 313.5,220.1 314.0,221.3 314.5,221.9 315.0,221.6 315.5,221.1 316.0,220.8 316.5,220.3 317.0,220.6 317.5,221.0 318.0,220.2 318.5,219.4 319.0,219.6 319.5,219.9 320.0,220.3 320.5,220.3 321.0,220.8 321.5,220.4 322.0,220.3 322.5,220.0 323.0,220.3 323.5,221.0 324.0,220.5 324.5,220.1 325.0,221.0 325.5,221.1 326.0,221.2 326.5,221.1 327.0,220.0 327.5,219.5 328.0,219.7 328.5,220.1 329.0,220.2 329.5,220.2 330.0,220.3 330.5,219.6 331.0,219.1 331.5,219.2 332.0,219.7 332.5,219.5 333.0,218.9 333.5,217.8 334.0,218.1 334.5,218.4 335.0,216.3 335.5,213.7 336.0,211.5 336.5,207.4 337.0,200.5 337.5,188.7 338.0,174.6 338.5,173.7 339.0,182.0 339.5,194.2 340.0,204.2 340.5,210.3 341.0,213.3 341.5,215.8 342.0,217.2 342.5,217.5 343.0,219.0 343.5,220.3 344.0,219.8 344.5,219.6 345.0,220.5 345.5,219.5 346.0,218.8 346.5,218.6 347.0,217.2 347.5,213.9 348.0,209.9 348.5,208.3 349.0,210.8 349.5,214.9 350.0,217.1 350.5,217.6 351.0,217.9 351.5,219.0 352.0,219.4 352.5,219.2 353.0,220.1 353.5,220.8 354.0,221.3 354.5,220.7 355.0,219.9 355.5,221.0 356.0,221.2 356.5,221.4 357.0,220.9 357.5,220.5 358.0,220.8 358.5,220.5 359.0,220.4 359.5,220.4 360.0,220.0 360.5,220.4 361.0,221.1 361.5,221.5 362.0,221.4 362.5,221.0 363.0,220.7 363.5,219.5 364.0,219.8 364.5,220.9 365.0,221.0 365.5,220.6 366.0,221.8 366.5,221.4 367.0,220.9 367.5,221.4 368.0,221.5 368.5,221.2 369.0,220.8 369.5,220.9 370.0,220.8 370.5,220.8 371.0,220.8 371.5,220.7 372.0,221.5 372.5,222.2 373.0,222.4 373.5,222.2 374.0,221.4 374.5,220.7 375.0,220.9 375.5,221.5 376.0,221.7 376.5,221.5 377.0,221.4 377.5,221.6 378.0,221.8 378.5,221.3 379.0,220.9 379.5,221.8 380.0,221.7 380.5,221.8 381.0,221.1 381.5,221.3 382.0,221.6 382.5,220.4 383.0,219.3 383.5,219.3 384.0,218.7 384.5,218.7 385.0,218.1 385.5,214.6 386.0,210.7 386.5,208.5 387.0,208.8 387.5,211.4 388.0,215.0 388.5,216.9 389.0,218.6 389.5,219.0 390.0,219.7 390.5,219.7 391.0,219.8 391.5,218.8 392.0,218.4 392.5,217.6 393.0,217.0 393.5,214.7 394.0,213.0 394.5,215.3 395.0,216.1 395.5,216.6 396.0,217.8 396.5,218.6 397.0,219.4 397.5,219.6 398.0,220.2 398.5,220.8 399.0,220.8 399.5,220.1 400.0,219.7 400.5,219.9 401.0,220.7 401.5,219.5 402.0,217.4 402.5,215.3 403.0,213.3 403.5,209.8 404.0,202.3 404.5,187.3 405.0,173.9 405.5,172.8 406.0,180.7 406.5,193.4 407.0,204.3 407.5,210.5 408.0,214.3 408.5,215.8 409.0,216.9 409.5,217.5 410.0,217.6 410.5,217.9 411.0,218.9 411.5,219.0 412.0,219.9 412.5,220.2 413.0,220.2 413.5,220.0 414.0,219.1 414.5,218.7 415.0,218.6 415.5,219.0 416.0,219.0 416.5,219.2 417.0,219.1 417.5,218.0 418.0,217.4 418.5,217.1 419.0,215.9 419.5,215.1 420.0,212.7 420.5,209.6 421.0,204.8 421.5,196.3 422.0,180.0 422.5,152.6 423.0,118.6 423.5,113.7 424.0,131.8 424.5,154.8 425.0,179.4 425.5,194.2 426.0,202.6 426.5,208.5 427.0,212.5 427.5,214.6 428.0,216.1 428.5,217.6 429.0,217.9 429.5,218.3 430.0,219.2 430.5,219.5 431.0,219.7 431.5,220.3 432.0,220.4 432.5,219.9 433.0,219.9 433.5,219.8 434.0,221.1 434.5,221.5 435.0,220.5 435.5,220.4 436.0,221.3 436.5,221.8 437.0,221.6 437.5,222.0 438.0,221.9 438.5,222.3 439.0,222.0 439.5,222.3 440.0,221.5 440.5,220.7 441.0,221.1 441.5,221.1 442.0,221.7 442.5,222.1 443.0,222.0 443.5,221.2 444.0,221.0 444.5,220.9 445.0,221.8 445.5,221.7 446.0,221.2 446.5,220.5 447.0,220.5 447.5,221.6 448.0,222.3 448.5,222.2 449.0,221.1 449.5,221.3 450.0,221.7 450.5,221.9 451.0,222.8 451.5,222.3 452.0,221.0 452.5,220.8 453.0,221.0 453.5,221.2 454.0,220.2 454.5,219.6 455.0,220.2 455.5,219.5 456.0,218.2 456.5,215.8 457.0,212.1 457.5,207.1 458.0,205.3 458.5,207.3 459.0,210.5 459.5,214.2 460.0,216.9 460.5,218.4 461.0,219.8 461.5,220.2 462.0,220.0 462.5,220.7 463.0,220.8 463.5,220.5 464.0,220.6 464.5,220.7 465.0,220.6 465.5,220.5 466.0,219.0 466.5,217.9 467.0,218.8 467.5,220.2 468.0,220.5 468.5,221.2 469.0,221.3 469.5,221.4 470.0,221.6 470.5,221.0 471.0,221.1 471.5,220.9 472.0,220.7 472.5,220.3 473.0,220.4 473.5,221.1 474.0,220.4 474.5,219.8 475.0,218.5 475.5,218.0 476.0,218.3 476.5,219.2 477.0,220.6 477.5,221.0 478.0,221.0 478.5,220.6 479.0,220.7 479.5,221.0 480.0,220.0 480.5,221.2 481.0,221.8 481.5,221.5 482.0,221.3 482.5,221.6 483.0,221.8 483.5,221.3 484.0,221.4 484.5,221.0 485.0,221.2 485.5,222.4 486.0,222.7 486.5,222.4 487.0,221.9 487.5,221.8 488.0,221.9 488.5,222.2 489.0,221.6 489.5,221.4 490.0,222.3 490.5,222.2 491.0,221.9 491.5,222.0 492.0,221.8 492.5,221.0 493.0,221.0 493.5,221.5 494.0,221.8 494.5,221.0 495.0,221.5 495.5,222.2 496.0,222.3 496.5,221.9 497.0,221.0 497.5,221.5 498.0,222.2 498.5,222.8 499.0,222.1 499.5,222.5 500.0,222.5 500.5,222.0 501.0,222.1 501.5,221.5 502.0,221.6 502.5,222.6 503.0,222.5 503.5,222.7 504.0,222.1 504.5,221.8 505.0,222.2 505.5,221.4 506.0,222.0 506.5,222.5 507.0,222.1 507.5,221.8 508.0,222.4 508.5,222.3 509.0,222.4 509.5,221.6 510.0,221.7 510.5,221.9 511.0,221.7 511.5,222.4 512.0,222.0 512.5,221.1 513.0,221.4 513.5,221.2 514.0,221.6 514.5,222.1 515.0,221.9 515.5,221.8 516.0,222.0 516.5,222.1 517.0,222.2 517.5,222.2 518.0,221.4 518.5,220.8 519.0,220.8 519.5,221.2 520.0,220.1 520.5,219.6 521.0,219.1 521.5,216.4 522.0,212.2 522.5,206.5 523.0,203.0 523.5,205.0 524.0,207.9 524.5,212.6 525.0,217.2 525.5,218.7 526.0,219.3 526.5,220.1 527.0,220.1 527.5,220.3 528.0,220.5 528.5,220.4 529.0,221.2 529.5,221.0 530.0,221.5 530.5,221.6 531.0,221.2 531.5,221.3 532.0,221.0 532.5,221.4 533.0,221.2 533.5,221.1 534.0,220.7 534.5,220.4 535.0,219.9 535.5,218.5 536.0,217.7 536.5,215.0 537.0,209.1 537.5,200.8 538.0,194.5 538.5,196.5 539.0,199.7 539.5,206.0 540.0,211.9 540.5,215.4 541.0,216.8 541.5,218.1 542.0,218.7 542.5,219.5 543.0,220.6 543.5,221.4 544.0,221.3 544.5,220.2 545.0,220.4 545.5,221.0 546.0,221.5 546.5,221.7 547.0,221.7 547.5,222.1 548.0,222.6 548.5,221.9 549.0,221.5 549.5,221.2 550.0,220.9 550.5,220.6 551.0,220.4 551.5,220.2 552.0,220.7 552.5,218.7 553.0,215.0 553.5,212.0 554.0,209.5 554.5,210.6 555.0,212.8 555.5,215.1 556.0,218.6 556.5,220.6 557.0,221.3 557.5,221.6 558.0,221.3 558.5,221.2 559.0,221.3 559.5,221.2 560.0,220.0 560.5,220.2 561.0,219.9 561.5,219.3 562.0,220.0 562.5,220.5 563.0,220.6 563.5,220.7 564.0,220.9 564.5,221.3 565.0,222.1 565.5,222.0 566.0,221.2 566.5,221.8 567.0,221.8 567.5,221.5 568.0,221.6 568.5,222.6 569.0,222.6 569.5,222.4 570.0,222.7 570.5,223.3 571.0,223.0 571.5,223.4 572.0,222.4 572.5,221.8 573.0,222.0 573.5,222.5 574.0,222.1 574.5,222.6 575.0,223.0 575.5,223.0 576.0,222.7 576.5,222.2 577.0,222.2 577.5,223.1 578.0,222.6 578.5,221.9 579.0,221.9 579.5,222.2 580.0,222.7 580.5,222.3 581.0,222.8 581.5,222.2 582.0,221.3 582.5,221.1 583.0,221.6 583.5,221.9 584.0,222.4 584.5,222.3 585.0,221.8 585.5,222.0 586.0,222.4 586.5,222.8 587.0,222.2 587.5,221.9 588.0,222.4 588.5,222.1 589.0,221.2 589.5,221.4 590.0,221.6 590.5,221.5 591.0,220.4 591.5,218.5 592.0,217.5 592.5,218.5 593.0,218.6 593.5,220.3 594.0,221.1 594.5,221.1 595.0,221.8 595.5,222.3 596.0,222.1 596.5,222.2 597.0,222.9 597.5,222.6 598.0,222.4 598.5,222.3 599.0,222.1 599.5,222.5 600.0,222.5 600.5,222.2 601.0,222.0 601.5,222.1 602.0,221.8 602.5,222.3 603.0,222.0 603.5,222.5 604.0,222.5 604.5,221.9 605.0,221.3 605.5,221.7 606.0,222.2 606.5,221.9 607.0,222.4 607.5,222.7 608.0,222.3 608.5,222.1 609.0,222.0 609.5,222.4 610.0,222.2 610.5,222.0 611.0,222.2 611.5,222.5 612.0,222.6 612.5,222.1 613.0,222.1 613.5,222.2 614.0,222.5 614.5,222.6 615.0,222.9" fill="none" stroke="#45b5fc" stroke-width="1.5" stroke-linejoin="round"/>
<line x1="134.20" y1="298.60" x2="134.20" y2="293.31" stroke="#000" stroke-width="1.6"/>
<line x1="204.40" y1="298.60" x2="204.40" y2="252.76" stroke="#000" stroke-width="1.6"/>
<line x1="232.80" y1="298.60" x2="232.80" y2="223.50" stroke="#000" stroke-width="1.6"/>
<line x1="246.30" y1="298.60" x2="246.30" y2="290.51" stroke="#000" stroke-width="1.6"/>
<line x1="258.90" y1="298.60" x2="258.90" y2="257.85" stroke="#000" stroke-width="1.6"/>
<line x1="271.10" y1="298.60" x2="271.10" y2="287.42" stroke="#000" stroke-width="1.6"/>
<line x1="294.30" y1="298.60" x2="294.30" y2="288.41" stroke="#000" stroke-width="1.6"/>
<line x1="337.10" y1="298.60" x2="337.10" y2="282.12" stroke="#000" stroke-width="1.6"/>
<line x1="347.30" y1="298.60" x2="347.30" y2="291.91" stroke="#000" stroke-width="1.6"/>
<line x1="362.00" y1="298.60" x2="362.00" y2="297.10" stroke="#000" stroke-width="1.6"/>
<line x1="372.00" y1="298.60" x2="372.00" y2="297.10" stroke="#000" stroke-width="1.6"/>
<line x1="386.50" y1="298.60" x2="386.50" y2="291.91" stroke="#000" stroke-width="1.6"/>
<line x1="404.60" y1="298.60" x2="404.60" y2="278.73" stroke="#000" stroke-width="1.6"/>
<line x1="413.60" y1="298.60" x2="413.60" y2="296.60" stroke="#000" stroke-width="1.6"/>
<line x1="423.00" y1="298.60" x2="423.00" y2="252.36" stroke="#000" stroke-width="1.6"/>
<line x1="457.30" y1="298.60" x2="457.30" y2="291.51" stroke="#000" stroke-width="1.6"/>
<line x1="470.00" y1="298.60" x2="470.00" y2="297.10" stroke="#000" stroke-width="1.6"/>
<line x1="480.00" y1="298.60" x2="480.00" y2="297.10" stroke="#000" stroke-width="1.6"/>
<line x1="500.00" y1="298.60" x2="500.00" y2="297.10" stroke="#000" stroke-width="1.6"/>
<line x1="522.00" y1="298.60" x2="522.00" y2="289.31" stroke="#000" stroke-width="1.6"/>
<line x1="537.40" y1="298.60" x2="537.40" y2="287.12" stroke="#000" stroke-width="1.6"/>
<line x1="545.00" y1="298.60" x2="545.00" y2="296.60" stroke="#000" stroke-width="1.6"/>
<line x1="553.00" y1="298.60" x2="553.00" y2="291.61" stroke="#000" stroke-width="1.6"/>
<line x1="561.00" y1="298.60" x2="561.00" y2="296.60" stroke="#000" stroke-width="1.6"/>
<line x1="575.00" y1="298.60" x2="575.00" y2="297.10" stroke="#000" stroke-width="1.6"/>
<line x1="590.60" y1="298.60" x2="590.60" y2="296.60" stroke="#000" stroke-width="1.6"/>
<line x1="604.00" y1="298.60" x2="604.00" y2="297.10" stroke="#000" stroke-width="1.6"/>
<line x1="114.00" y1="372.80" x2="114.00" y2="371.30" stroke="#000" stroke-width="1.6"/>
<line x1="147.20" y1="372.80" x2="147.20" y2="358.10" stroke="#000" stroke-width="1.6"/>
<line x1="223.30" y1="372.80" x2="223.30" y2="298.60" stroke="#000" stroke-width="1.6"/>
<line x1="244.10" y1="372.80" x2="244.10" y2="371.30" stroke="#000" stroke-width="1.6"/>
<line x1="263.70" y1="372.80" x2="263.70" y2="363.50" stroke="#000" stroke-width="1.6"/>
<line x1="281.90" y1="372.80" x2="281.90" y2="369.20" stroke="#000" stroke-width="1.6"/>
<line x1="300.00" y1="372.80" x2="300.00" y2="371.30" stroke="#000" stroke-width="1.6"/>
<line x1="317.00" y1="372.80" x2="317.00" y2="364.30" stroke="#000" stroke-width="1.6"/>
<line x1="348.80" y1="372.80" x2="348.80" y2="365.70" stroke="#000" stroke-width="1.6"/>
<line x1="379.00" y1="372.80" x2="379.00" y2="370.80" stroke="#000" stroke-width="1.6"/>
<line x1="393.60" y1="372.80" x2="393.60" y2="344.60" stroke="#000" stroke-width="1.6"/>
<line x1="435.00" y1="372.80" x2="435.00" y2="368.30" stroke="#000" stroke-width="1.6"/>
<line x1="461.00" y1="372.80" x2="461.00" y2="369.80" stroke="#000" stroke-width="1.6"/>
<line x1="474.30" y1="372.80" x2="474.30" y2="360.90" stroke="#000" stroke-width="1.6"/>
<line x1="487.40" y1="372.80" x2="487.40" y2="370.80" stroke="#000" stroke-width="1.6"/>
<line x1="505.00" y1="372.80" x2="505.00" y2="371.30" stroke="#000" stroke-width="1.6"/>
<line x1="518.00" y1="372.80" x2="518.00" y2="371.30" stroke="#000" stroke-width="1.6"/>
<line x1="545.00" y1="372.80" x2="545.00" y2="371.30" stroke="#000" stroke-width="1.6"/>
<line x1="558.00" y1="372.80" x2="558.00" y2="371.30" stroke="#000" stroke-width="1.6"/>
<line x1="584.00" y1="372.80" x2="584.00" y2="371.30" stroke="#000" stroke-width="1.6"/>
<line x1="595.00" y1="372.80" x2="595.00" y2="371.30" stroke="#000" stroke-width="1.6"/>
<line x1="607.00" y1="372.80" x2="607.00" y2="371.30" stroke="#000" stroke-width="1.6"/>
<line x1="143.80" y1="447.00" x2="143.80" y2="430.40" stroke="#000" stroke-width="1.6"/>
<line x1="191.90" y1="447.00" x2="191.90" y2="372.80" stroke="#000" stroke-width="1.6"/>
<line x1="276.80" y1="447.00" x2="276.80" y2="438.40" stroke="#000" stroke-width="1.6"/>
<line x1="297.80" y1="447.00" x2="297.80" y2="437.30" stroke="#000" stroke-width="1.6"/>
<line x1="307.40" y1="447.00" x2="307.40" y2="442.70" stroke="#000" stroke-width="1.6"/>
<line x1="326.70" y1="447.00" x2="326.70" y2="441.80" stroke="#000" stroke-width="1.6"/>
<line x1="354.00" y1="447.00" x2="354.00" y2="445.00" stroke="#000" stroke-width="1.6"/>
<line x1="388.80" y1="447.00" x2="388.80" y2="441.00" stroke="#000" stroke-width="1.6"/>
<line x1="429.40" y1="447.00" x2="429.40" y2="441.80" stroke="#000" stroke-width="1.6"/>
<line x1="474.60" y1="447.00" x2="474.60" y2="439.50" stroke="#000" stroke-width="1.6"/>
<line x1="505.00" y1="447.00" x2="505.00" y2="445.00" stroke="#000" stroke-width="1.6"/>
<line x1="539.40" y1="447.00" x2="539.40" y2="440.60" stroke="#000" stroke-width="1.6"/>
<line x1="545.40" y1="447.00" x2="545.40" y2="442.50" stroke="#000" stroke-width="1.6"/>
<line x1="582.00" y1="447.00" x2="582.00" y2="445.00" stroke="#000" stroke-width="1.6"/>
<line x1="606.00" y1="447.00" x2="606.00" y2="445.00" stroke="#000" stroke-width="1.6"/>
<rect x="49.5" y="24" width="566.00" height="423.00" fill="none" stroke="#000" stroke-width="1.6"/>
<line x1="49.50" y1="224.50" x2="615.50" y2="224.50" stroke="#000" stroke-width="1.6"/>
<line x1="49.50" y1="298.60" x2="615.50" y2="298.60" stroke="#000" stroke-width="1.6"/>
<line x1="49.50" y1="372.80" x2="615.50" y2="372.80" stroke="#000" stroke-width="1.6"/>
<line x1="49.50" y1="447.00" x2="49.50" y2="453.50" stroke="#000" stroke-width="1.6"/>
<line x1="89.93" y1="447.00" x2="89.93" y2="451.00" stroke="#000" stroke-width="1.6"/>
<line x1="130.36" y1="447.00" x2="130.36" y2="453.50" stroke="#000" stroke-width="1.6"/>
<line x1="170.79" y1="447.00" x2="170.79" y2="451.00" stroke="#000" stroke-width="1.6"/>
<line x1="211.21" y1="447.00" x2="211.21" y2="453.50" stroke="#000" stroke-width="1.6"/>
<line x1="251.64" y1="447.00" x2="251.64" y2="451.00" stroke="#000" stroke-width="1.6"/>
<line x1="292.07" y1="447.00" x2="292.07" y2="453.50" stroke="#000" stroke-width="1.6"/>
<line x1="332.50" y1="447.00" x2="332.50" y2="451.00" stroke="#000" stroke-width="1.6"/>
<line x1="372.93" y1="447.00" x2="372.93" y2="453.50" stroke="#000" stroke-width="1.6"/>
<line x1="413.36" y1="447.00" x2="413.36" y2="451.00" stroke="#000" stroke-width="1.6"/>
<line x1="453.79" y1="447.00" x2="453.79" y2="453.50" stroke="#000" stroke-width="1.6"/>
<line x1="494.21" y1="447.00" x2="494.21" y2="451.00" stroke="#000" stroke-width="1.6"/>
<line x1="534.64" y1="447.00" x2="534.64" y2="453.50" stroke="#000" stroke-width="1.6"/>
<line x1="575.07" y1="447.00" x2="575.07" y2="451.00" stroke="#000" stroke-width="1.6"/>
<line x1="615.50" y1="447.00" x2="615.50" y2="453.50" stroke="#000" stroke-width="1.6"/>
<rect x="133.2" y="223.8" width="2" height="1.5" fill="#e83030"/>
<rect x="203.4" y="223.8" width="2" height="1.5" fill="#e83030"/>
<rect x="231.8" y="223.8" width="2" height="1.5" fill="#e83030"/>
<rect x="245.3" y="223.8" width="2" height="1.5" fill="#e83030"/>
<rect x="257.9" y="223.8" width="2" height="1.5" fill="#e83030"/>
<rect x="270.1" y="223.8" width="2" height="1.5" fill="#e83030"/>
<rect x="293.3" y="223.8" width="2" height="1.5" fill="#e83030"/>
<rect x="336.1" y="223.8" width="2" height="1.5" fill="#e83030"/>
<rect x="346.3" y="223.8" width="2" height="1.5" fill="#e83030"/>
<rect x="385.5" y="223.8" width="2" height="1.5" fill="#e83030"/>
<rect x="403.6" y="223.8" width="2" height="1.5" fill="#e83030"/>
<rect x="412.6" y="223.8" width="2" height="1.5" fill="#e83030"/>
<rect x="422.0" y="223.8" width="2" height="1.5" fill="#e83030"/>
<rect x="456.3" y="223.8" width="2" height="1.5" fill="#e83030"/>
<rect x="521.0" y="223.8" width="2" height="1.5" fill="#e83030"/>
<rect x="536.4" y="223.8" width="2" height="1.5" fill="#e83030"/>
<rect x="544.0" y="223.8" width="2" height="1.5" fill="#e83030"/>
<rect x="552.0" y="223.8" width="2" height="1.5" fill="#e83030"/>
<rect x="560.0" y="223.8" width="2" height="1.5" fill="#e83030"/>
<rect x="589.6" y="223.8" width="2" height="1.5" fill="#e83030"/>
<polyline points="716.3,194.9 716.8,196.1 717.3,197.3 717.8,198.4 718.3,196.7 718.8,197.1 719.3,198.7 719.8,199.0 720.3,199.8 720.8,200.7 721.3,200.7 721.8,201.7 722.3,202.6 722.8,203.1 723.3,203.0 723.8,203.4 724.3,203.8 724.8,204.7 725.3,205.1 725.8,205.6 726.3,205.2 726.8,205.6 727.3,206.0 727.8,206.5 728.3,207.4 728.8,206.6 729.3,206.5 729.8,208.9 730.3,210.0 730.8,209.7 731.3,208.6 731.8,208.6 732.3,208.5 732.8,208.9 733.3,209.5 733.8,209.9 734.3,210.2 734.8,210.3 735.3,211.3 735.8,211.4 736.3,210.7 736.8,210.4 737.3,211.9 737.8,212.6 738.3,212.3 738.8,211.7 739.3,211.9 739.8,212.1 740.3,213.2 740.8,212.2 741.3,212.3 741.8,213.6 742.3,213.1 742.8,212.6 743.3,213.0 743.8,212.5 744.3,212.1 744.8,213.3 745.3,214.2 745.8,214.5 746.3,214.0 746.8,214.3 747.3,214.6 747.8,214.5 748.3,214.5 748.8,215.5 749.3,216.4 749.8,216.4 750.3,214.8 750.8,214.6 751.3,214.3 751.8,215.1 752.3,215.7 752.8,215.3 753.3,215.7 753.8,216.5 754.3,216.1 754.8,214.9 755.3,215.2 755.8,215.7 756.3,216.2 756.8,216.3 757.3,215.8 757.8,216.2 758.3,216.7 758.8,216.7 759.3,216.9 759.8,216.3 760.3,216.0 760.8,216.6 761.3,216.1 761.8,216.8 762.3,216.9 762.8,217.3 763.3,217.1 763.8,217.0 764.3,217.3 764.8,217.6 765.3,217.7 765.8,218.0 766.3,218.2 766.8,217.5 767.3,216.9 767.8,216.6 768.3,216.3 768.8,215.8 769.3,216.9 769.8,217.3 770.3,216.7 770.8,217.6 771.3,217.4 771.8,217.9 772.3,218.0 772.8,218.5 773.3,217.6 773.8,217.9 774.3,218.1 774.8,217.0 775.3,217.1 775.8,217.9 776.3,218.3 776.8,218.2 777.3,218.0 777.8,217.5 778.3,217.6 778.8,218.4 779.3,218.7 779.8,218.8 780.3,219.1 780.8,218.8 781.3,218.3 781.8,217.7 782.3,217.6 782.8,218.5 783.3,218.3 783.8,218.2 784.3,217.4 784.8,218.0 785.3,218.4 785.8,219.1 786.3,219.1 786.8,218.7 787.3,218.7 787.8,218.8 788.3,219.3 788.8,218.8 789.3,218.7 789.8,218.0 790.3,218.4 790.8,218.5 791.3,219.2 791.8,219.0 792.3,219.3 792.8,219.2 793.3,219.0 793.8,219.0 794.3,218.6 794.8,218.3 795.3,218.4 795.8,219.0 796.3,219.7 796.8,219.5 797.3,219.4 797.8,219.7 798.3,218.6 798.8,218.4 799.3,218.0 799.8,216.9 800.3,215.9 800.8,214.6 801.3,212.4 801.8,210.6 802.3,212.4 802.8,215.3 803.3,216.2 803.8,217.6 804.3,219.2 804.8,219.2 805.3,219.3 805.8,218.5 806.3,218.7 806.8,219.8 807.3,220.0 807.8,219.5 808.3,219.3 808.8,218.6 809.3,218.9 809.8,219.5 810.3,219.7 810.8,220.5 811.3,219.7 811.8,219.2 812.3,219.8 812.8,220.0 813.3,219.2 813.8,218.6 814.3,219.5 814.8,220.1 815.3,219.6 815.8,220.5 816.3,220.1 816.8,220.0 817.3,219.7 817.8,220.0 818.3,219.4 818.8,219.9 819.3,221.2 819.8,221.4 820.3,220.3 820.8,219.4 821.3,219.8 821.8,220.1 822.3,220.1 822.8,219.7 823.3,219.8 823.8,220.1 824.3,220.4 824.8,219.5 825.3,219.5 825.8,220.3 826.3,219.2 826.8,219.6 827.3,220.7 827.8,221.2 828.3,220.2 828.8,220.0 829.3,220.9 829.8,221.2 830.3,220.2 830.8,220.6 831.3,220.3 831.8,218.7 832.3,218.7 832.8,219.7 833.3,220.4 833.8,220.6 834.3,221.5 834.8,221.0 835.3,221.1 835.8,221.6 836.3,221.5 836.8,220.5 837.3,220.4 837.8,220.3 838.3,220.3 838.8,221.1 839.3,221.7 839.8,221.8 840.3,221.0 840.8,220.3 841.3,220.5 841.8,220.5 842.3,221.2 842.8,221.2 843.3,221.3 843.8,221.1 844.3,219.8 844.8,220.1 845.3,221.1 845.8,221.2 846.3,221.1 846.8,221.4 847.3,220.9 847.8,221.3 848.3,221.3 848.8,221.4 849.3,221.3 849.8,221.7 850.3,221.9 850.8,221.5 851.3,221.2 851.8,220.9 852.3,220.4 852.8,219.7 853.3,219.9 853.8,220.4 854.3,220.2 854.8,220.3 855.3,219.5 855.8,219.8 856.3,220.3 856.8,219.2 857.3,218.7 857.8,219.1 858.3,216.8 858.8,214.8 859.3,215.8 859.8,217.3 860.3,218.4 860.8,218.5 861.3,218.4 861.8,218.0 862.3,219.0 862.8,218.9 863.3,219.1 863.8,219.4 864.3,220.1 864.8,220.3 865.3,219.3 865.8,217.7 866.3,216.7 866.8,216.5 867.3,216.2 867.8,215.4 868.3,212.8 868.8,210.6 869.3,208.4 869.8,203.4 870.3,194.5 870.8,177.1 871.3,148.7 871.8,112.4 872.3,103.2 872.8,128.7 873.3,163.0 873.8,186.6 874.3,199.7 874.8,206.6 875.3,209.3 875.8,211.5 876.3,215.0 876.8,215.9 877.3,216.7 877.8,217.9 878.3,218.3 878.8,218.8 879.3,218.4 879.8,219.1 880.3,219.2 880.8,219.1 881.3,220.0 881.8,220.8 882.3,220.2 882.8,219.5 883.3,219.7 883.8,219.9 884.3,220.3 884.8,219.8 885.3,219.4 885.8,219.3 886.3,218.7 886.8,219.5 887.3,220.3 887.8,220.1 888.3,218.8 888.8,218.4 889.3,217.7 889.8,216.9 890.3,215.3 890.8,214.2 891.3,214.5 891.8,214.7 892.3,215.1 892.8,215.9 893.3,214.6 893.8,213.7 894.3,213.2 894.8,212.7 895.3,211.4 895.8,210.0 896.3,207.1 896.8,203.5 897.3,198.2 897.8,190.8 898.3,178.7 898.8,160.2 899.3,131.2 899.8,80.3 900.3,27.4 900.8,27.4 901.3,27.4 901.8,50.9 902.3,109.7 902.8,149.7 903.3,172.0 903.8,185.3 904.3,193.9 904.8,200.6 905.3,205.1 905.8,208.9 906.3,211.0 906.8,212.5 907.3,213.5 907.8,215.3 908.3,216.1 908.8,215.6 909.3,215.4 909.8,216.3 910.3,216.9 910.8,217.0 911.3,216.1 911.8,215.2 912.3,213.5 912.8,211.6 913.3,207.8 913.8,202.6 914.3,202.8 914.8,206.9 915.3,210.6 915.8,214.3 916.3,216.9 916.8,217.0 917.3,218.2 917.8,219.2 918.3,219.0 918.8,219.3 919.3,219.9 919.8,220.3 920.3,219.2 920.8,218.9 921.3,219.5 921.8,217.7 922.3,216.5 922.8,215.7 923.3,213.9 923.8,211.4 924.3,207.3 924.8,199.2 925.3,184.6 925.8,161.9 926.3,134.9 926.8,134.2 927.3,155.0 927.8,179.5 928.3,196.6 928.8,205.6 929.3,210.2 929.8,213.3 930.3,215.3 930.8,215.4 931.3,217.5 931.8,218.5 932.3,219.1 932.8,219.3 933.3,219.0 933.8,219.4 934.3,218.8 934.8,218.8 935.3,219.3 935.8,218.3 936.3,217.3 936.8,214.7 937.3,213.0 937.8,208.8 938.3,200.6 938.8,192.3 939.3,193.5 939.8,201.2 940.3,209.5 940.8,214.4 941.3,216.6 941.8,218.0 942.3,220.2 942.8,221.0 943.3,221.6 943.8,222.2 944.3,222.4 944.8,222.1 945.3,221.6 945.8,221.9 946.3,222.2 946.8,221.8 947.3,221.9 947.8,222.2 948.3,222.2 948.8,222.5 949.3,222.1 949.8,222.1 950.3,222.7 950.8,222.8 951.3,221.9 951.8,221.7 952.3,221.1 952.8,222.2 953.3,222.2 953.8,222.5 954.3,222.2 954.8,222.1 955.3,222.6 955.8,222.5 956.3,222.2 956.8,222.0 957.3,221.5 957.8,221.1 958.3,221.0 958.8,221.0 959.3,221.0 959.8,220.6 960.3,219.2 960.8,216.5 961.3,211.6 961.8,205.1 962.3,199.2 962.8,199.8 963.3,206.0 963.8,212.5 964.3,216.3 964.8,218.8 965.3,221.3 965.8,221.8 966.3,221.6 966.8,222.1 967.3,222.6 967.8,222.4 968.3,221.9 968.8,222.4 969.3,222.2 969.8,222.3 970.3,222.8 970.8,222.8 971.3,223.1 971.8,223.5 972.3,223.5 972.8,222.8 973.3,223.2 973.8,223.6 974.3,223.4 974.8,222.3 975.3,222.5 975.8,223.2 976.3,223.7 976.8,224.0 977.3,223.2 977.8,223.2 978.3,223.6 978.8,222.8 979.3,222.8 979.8,223.7 980.3,223.7 980.8,223.5 981.3,223.3 981.8,223.6 982.3,223.8 982.8,222.8 983.3,222.7 983.8,222.4 984.3,222.5 984.8,223.1 985.3,223.1 985.8,222.8 986.3,222.8 986.8,223.4 987.3,223.6 987.8,223.5 988.3,223.8 988.8,224.0 989.3,224.3 989.8,223.7 990.3,223.8 990.8,223.7 991.3,223.3 991.8,222.8 992.3,222.3 992.8,223.0 993.3,223.8 993.8,223.4 994.3,223.3 994.8,223.1 995.3,223.4 995.8,223.5 996.3,223.4 996.8,223.6 997.3,223.9 997.8,223.3 998.3,222.5 998.8,221.9 999.3,222.3 999.8,222.2 1000.3,221.4 1000.8,220.7 1001.3,219.8 1001.8,219.5 1002.3,218.7 1002.8,216.3 1003.3,213.6 1003.8,209.8 1004.3,201.7 1004.8,188.4 1005.3,175.6 1005.8,178.2 1006.3,188.1 1006.8,200.5 1007.3,209.2 1007.8,214.1 1008.3,216.7 1008.8,218.6 1009.3,220.3 1009.8,221.1 1010.3,220.4 1010.8,220.5 1011.3,221.4 1011.8,221.5 1012.3,222.3 1012.8,222.2 1013.3,220.6 1013.8,218.8 1014.3,217.5 1014.8,213.7 1015.3,209.6 1015.8,211.5 1016.3,213.5 1016.8,216.6 1017.3,219.5 1017.8,220.4 1018.3,220.6 1018.8,222.4 1019.3,222.9 1019.8,223.1 1020.3,223.6 1020.8,223.6 1021.3,222.6 1021.8,223.2 1022.3,224.2 1022.8,223.9 1023.3,223.3 1023.8,223.5 1024.3,224.1 1024.8,223.8 1025.3,223.4 1025.8,223.3 1026.3,223.7 1026.8,224.1 1027.3,223.0 1027.8,223.0 1028.3,222.4 1028.8,222.1 1029.3,223.5 1029.8,224.2 1030.3,223.5 1030.8,223.8 1031.3,224.1 1031.8,224.0 1032.3,223.2 1032.8,223.9 1033.3,224.6 1033.8,224.4 1034.3,224.4 1034.8,224.0 1035.3,224.1 1035.8,224.3 1036.3,223.8 1036.8,223.9 1037.3,223.4 1037.8,223.2 1038.3,223.9 1038.8,224.1 1039.3,223.7 1039.8,223.3 1040.3,223.6 1040.8,223.7 1041.3,223.7 1041.8,223.5 1042.3,223.5 1042.8,224.1 1043.3,224.1 1043.8,223.9 1044.3,224.0 1044.8,223.6 1045.3,223.4 1045.8,223.7 1046.3,224.0 1046.8,223.8 1047.3,222.7 1047.8,222.9 1048.3,223.9 1048.8,223.6 1049.3,222.1 1049.8,221.9 1050.3,222.2 1050.8,222.0 1051.3,222.4 1051.8,221.1 1052.3,219.4 1052.8,217.8 1053.3,212.9 1053.8,206.7 1054.3,206.6 1054.8,210.3 1055.3,214.0 1055.8,217.0 1056.3,220.2 1056.8,221.9 1057.3,222.2 1057.8,222.3 1058.3,222.0 1058.8,222.5 1059.3,222.8 1059.8,221.9 1060.3,222.5 1060.8,222.4 1061.3,221.8 1061.8,221.3 1062.3,220.6 1062.8,219.4 1063.3,219.7 1063.8,220.8 1064.3,221.1 1064.8,221.6 1065.3,222.0 1065.8,222.0 1066.3,222.0 1066.8,221.0 1067.3,220.8 1067.8,221.9 1068.3,220.9 1068.8,220.3 1069.3,219.6 1069.8,216.3 1070.3,212.6 1070.8,206.2 1071.3,194.2 1071.8,176.1 1072.3,168.8 1072.8,176.6 1073.3,187.9 1073.8,200.9 1074.3,209.6 1074.8,214.7 1075.3,217.3 1075.8,219.0 1076.3,219.6 1076.8,219.9 1077.3,220.4 1077.8,220.1 1078.3,220.1 1078.8,221.8 1079.3,221.2 1079.8,220.5 1080.3,220.6 1080.8,221.1 1081.3,221.0 1081.8,221.4 1082.3,221.8 1082.8,221.7 1083.3,221.9 1083.8,222.1 1084.3,220.5 1084.8,220.2 1085.3,219.9 1085.8,218.6 1086.3,217.8 1086.8,216.5 1087.3,212.7 1087.8,209.1 1088.3,201.5 1088.8,188.1 1089.3,164.2 1089.8,128.7 1090.3,107.9 1090.8,121.3 1091.3,142.0 1091.8,167.9 1092.3,188.3 1092.8,201.4 1093.3,209.0 1093.8,212.7 1094.3,215.9 1094.8,218.0 1095.3,219.0 1095.8,219.6 1096.3,220.2 1096.8,220.4 1097.3,220.7 1097.8,221.9 1098.3,223.6 1098.8,223.7 1099.3,222.9 1099.8,222.5 1100.3,222.0 1100.8,222.8 1101.3,223.2 1101.8,222.8 1102.3,222.8 1102.8,223.4 1103.3,223.6 1103.8,224.2 1104.3,224.1 1104.8,223.5 1105.3,224.1 1105.8,223.5 1106.3,223.3 1106.8,223.3 1107.3,223.3 1107.8,223.9 1108.3,225.0 1108.8,224.9 1109.3,224.3 1109.8,223.8 1110.3,224.5 1110.8,224.6 1111.3,224.1 1111.8,223.7 1112.3,224.7 1112.8,224.8 1113.3,224.3 1113.8,224.9 1114.3,224.3 1114.8,224.4 1115.3,224.9 1115.8,224.6 1116.3,224.5 1116.8,224.0 1117.3,223.5 1117.8,223.2 1118.3,223.6 1118.8,223.8 1119.3,223.9 1119.8,223.5 1120.3,223.2 1120.8,223.8 1121.3,222.9 1121.8,222.4 1122.3,221.5 1122.8,219.8 1123.3,217.1 1123.8,213.1 1124.3,207.4 1124.8,204.7 1125.3,207.4 1125.8,211.1 1126.3,215.3 1126.8,218.3 1127.3,220.5 1127.8,221.9 1128.3,223.1 1128.8,223.5 1129.3,223.9 1129.8,223.4 1130.3,223.5 1130.8,222.4 1131.3,221.6 1131.8,222.3 1132.3,221.5 1132.8,220.9 1133.3,221.4 1133.8,222.0 1134.3,221.8 1134.8,222.1 1135.3,223.3 1135.8,224.5 1136.3,224.6 1136.8,224.1 1137.3,223.4 1137.8,223.7 1138.3,223.7 1138.8,223.5 1139.3,223.9 1139.8,224.0 1140.3,224.1 1140.8,224.1 1141.3,222.6 1141.8,221.2 1142.3,221.2 1142.8,222.6 1143.3,223.0 1143.8,222.9 1144.3,223.2 1144.8,223.4 1145.3,224.3 1145.8,224.4 1146.3,224.5 1146.8,224.4 1147.3,224.5 1147.8,224.1 1148.3,223.8 1148.8,224.3 1149.3,225.1 1149.8,224.3 1150.3,224.3 1150.8,225.1 1151.3,225.1 1151.8,224.6 1152.3,224.4 1152.8,224.9 1153.3,225.3 1153.8,224.7 1154.3,224.1 1154.8,223.6 1155.3,224.4 1155.8,223.4 1156.3,223.4 1156.8,223.9 1157.3,223.8 1157.8,224.2 1158.3,224.3 1158.8,224.8 1159.3,224.8 1159.8,225.3 1160.3,225.5 1160.8,225.1 1161.3,224.9 1161.8,224.3 1162.3,224.0 1162.8,224.5 1163.3,224.6 1163.8,224.8 1164.3,225.3 1164.8,224.7 1165.3,224.6 1165.8,224.8 1166.3,225.4 1166.8,225.7 1167.3,225.0 1167.8,224.3 1168.3,223.8 1168.8,223.7 1169.3,223.7 1169.8,224.1 1170.3,224.1 1170.8,224.4 1171.3,224.2 1171.8,223.7 1172.3,223.2 1172.8,224.3 1173.3,224.9 1173.8,224.3 1174.3,224.7 1174.8,224.8 1175.3,224.9 1175.8,224.8 1176.3,224.0 1176.8,224.2 1177.3,224.7 1177.8,224.7 1178.3,224.6 1178.8,224.3 1179.3,224.7 1179.8,224.9 1180.3,224.9 1180.8,224.6 1181.3,224.4 1181.8,224.7 1182.3,224.4 1182.8,223.7 1183.3,222.9 1183.8,223.7 1184.3,225.2 1184.8,224.5 1185.3,223.8 1185.8,222.9 1186.3,222.0 1186.8,222.0 1187.3,222.4 1187.8,220.1 1188.3,217.1 1188.8,212.1 1189.3,204.6 1189.8,201.2 1190.3,203.7 1190.8,208.1 1191.3,212.3 1191.8,216.1 1192.3,218.4 1192.8,221.4 1193.3,222.9 1193.8,222.7 1194.3,223.0 1194.8,222.8 1195.3,223.7 1195.8,224.0 1196.3,223.3 1196.8,223.4 1197.3,223.6 1197.8,224.1 1198.3,223.3 1198.8,223.6 1199.3,223.5 1199.8,224.1 1200.3,224.3 1200.8,223.5 1201.3,222.6 1201.8,221.6 1202.3,221.3 1202.8,220.5 1203.3,218.6 1203.8,215.5 1204.3,212.5 1204.8,204.7 1205.3,195.7 1205.8,194.3 1206.3,198.3 1206.8,201.4 1207.3,207.8 1207.8,212.9 1208.3,216.1 1208.8,218.4 1209.3,219.5 1209.8,220.8 1210.3,222.2 1210.8,222.6 1211.3,223.3 1211.8,223.5 1212.3,223.3 1212.8,222.8 1213.3,223.7 1213.8,224.4 1214.3,224.3 1214.8,223.8 1215.3,224.6 1215.8,224.4 1216.3,224.4 1216.8,225.0 1217.3,224.0 1217.8,222.9 1218.3,222.8 1218.8,222.6 1219.3,220.9 1219.8,218.5 1220.3,214.7 1220.8,211.1 1221.3,209.6 1221.8,211.6 1222.3,213.7 1222.8,216.8 1223.3,219.9 1223.8,222.1 1224.3,223.4 1224.8,223.7 1225.3,224.1 1225.8,224.1 1226.3,223.6 1226.8,222.6 1227.3,221.8 1227.8,221.5 1228.3,221.0 1228.8,221.3 1229.3,222.4 1229.8,224.2 1230.3,224.8 1230.8,223.9 1231.3,223.7 1231.8,224.3 1232.3,224.7 1232.8,223.9 1233.3,223.9 1233.8,224.5 1234.3,225.1 1234.8,225.5 1235.3,224.9 1235.8,225.3 1236.3,224.6 1236.8,224.4 1237.3,224.4 1237.8,224.2 1238.3,224.7 1238.8,224.5 1239.3,224.4 1239.8,224.7 1240.3,224.8 1240.8,224.3 1241.3,224.5 1241.8,224.9 1242.3,225.0 1242.8,224.5 1243.3,223.9 1243.8,224.6 1244.3,225.2 1244.8,225.6 1245.3,225.9 1245.8,225.9 1246.3,225.1 1246.8,225.0 1247.3,225.6 1247.8,225.8 1248.3,225.4 1248.8,225.4 1249.3,225.5 1249.8,225.0 1250.3,224.8 1250.8,224.8 1251.3,224.7 1251.8,224.9 1252.3,224.5 1252.8,225.0 1253.3,224.7 1253.8,224.5 1254.3,224.7 1254.8,224.8 1255.3,225.4 1255.8,225.4 1256.3,224.7 1256.8,224.2 1257.3,223.2 1257.8,222.1 1258.3,220.4 1258.8,219.9 1259.3,220.8 1259.8,221.6 1260.3,222.8 1260.8,223.4 1261.3,223.4 1261.8,224.9 1262.3,224.7 1262.8,224.2 1263.3,224.2 1263.8,224.0 1264.3,224.6 1264.8,225.4 1265.3,225.5 1265.8,225.5 1266.3,224.5 1266.8,224.3 1267.3,224.9 1267.8,224.9 1268.3,225.3 1268.8,225.8 1269.3,225.7 1269.8,225.9 1270.3,225.5 1270.8,224.9 1271.3,224.5 1271.8,224.4 1272.3,225.0 1272.8,224.9 1273.3,224.8 1273.8,225.2 1274.3,226.3 1274.8,225.7 1275.3,225.0 1275.8,225.4 1276.3,225.0 1276.8,225.0 1277.3,225.8 1277.8,225.4 1278.3,225.0 1278.8,225.3 1279.3,225.7 1279.8,225.3 1280.3,225.3" fill="none" stroke="#0000ff" stroke-width="1.5" stroke-linejoin="round"/>
<line x1="800.38" y1="299.00" x2="800.38" y2="293.87" stroke="#000" stroke-width="1.6"/>
<line x1="870.48" y1="299.00" x2="870.48" y2="254.58" stroke="#000" stroke-width="1.6"/>
<line x1="898.84" y1="299.00" x2="898.84" y2="226.20" stroke="#000" stroke-width="1.6"/>
<line x1="912.32" y1="299.00" x2="912.32" y2="291.16" stroke="#000" stroke-width="1.6"/>
<line x1="924.90" y1="299.00" x2="924.90" y2="259.52" stroke="#000" stroke-width="1.6"/>
<line x1="937.09" y1="299.00" x2="937.09" y2="288.16" stroke="#000" stroke-width="1.6"/>
<line x1="960.25" y1="299.00" x2="960.25" y2="289.13" stroke="#000" stroke-width="1.6"/>
<line x1="1002.99" y1="299.00" x2="1002.99" y2="283.03" stroke="#000" stroke-width="1.6"/>
<line x1="1013.18" y1="299.00" x2="1013.18" y2="292.52" stroke="#000" stroke-width="1.6"/>
<line x1="1027.86" y1="299.00" x2="1027.86" y2="297.55" stroke="#000" stroke-width="1.6"/>
<line x1="1037.84" y1="299.00" x2="1037.84" y2="297.55" stroke="#000" stroke-width="1.6"/>
<line x1="1052.32" y1="299.00" x2="1052.32" y2="292.52" stroke="#000" stroke-width="1.6"/>
<line x1="1070.40" y1="299.00" x2="1070.40" y2="279.74" stroke="#000" stroke-width="1.6"/>
<line x1="1079.39" y1="299.00" x2="1079.39" y2="297.06" stroke="#000" stroke-width="1.6"/>
<line x1="1088.77" y1="299.00" x2="1088.77" y2="254.20" stroke="#000" stroke-width="1.6"/>
<line x1="1123.02" y1="299.00" x2="1123.02" y2="292.13" stroke="#000" stroke-width="1.6"/>
<line x1="1135.71" y1="299.00" x2="1135.71" y2="297.55" stroke="#000" stroke-width="1.6"/>
<line x1="1145.69" y1="299.00" x2="1145.69" y2="297.55" stroke="#000" stroke-width="1.6"/>
<line x1="1165.66" y1="299.00" x2="1165.66" y2="297.55" stroke="#000" stroke-width="1.6"/>
<line x1="1187.63" y1="299.00" x2="1187.63" y2="290.00" stroke="#000" stroke-width="1.6"/>
<line x1="1203.01" y1="299.00" x2="1203.01" y2="287.87" stroke="#000" stroke-width="1.6"/>
<line x1="1210.60" y1="299.00" x2="1210.60" y2="297.06" stroke="#000" stroke-width="1.6"/>
<line x1="1218.59" y1="299.00" x2="1218.59" y2="292.23" stroke="#000" stroke-width="1.6"/>
<line x1="1226.58" y1="299.00" x2="1226.58" y2="297.06" stroke="#000" stroke-width="1.6"/>
<line x1="1240.56" y1="299.00" x2="1240.56" y2="297.55" stroke="#000" stroke-width="1.6"/>
<line x1="1256.14" y1="299.00" x2="1256.14" y2="297.06" stroke="#000" stroke-width="1.6"/>
<line x1="1269.52" y1="299.00" x2="1269.52" y2="297.55" stroke="#000" stroke-width="1.6"/>
<line x1="780.21" y1="372.60" x2="780.21" y2="371.11" stroke="#000" stroke-width="1.6"/>
<line x1="813.36" y1="372.60" x2="813.36" y2="358.02" stroke="#000" stroke-width="1.6"/>
<line x1="889.35" y1="372.60" x2="889.35" y2="299.00" stroke="#000" stroke-width="1.6"/>
<line x1="910.12" y1="372.60" x2="910.12" y2="371.11" stroke="#000" stroke-width="1.6"/>
<line x1="929.70" y1="372.60" x2="929.70" y2="363.38" stroke="#000" stroke-width="1.6"/>
<line x1="947.87" y1="372.60" x2="947.87" y2="369.03" stroke="#000" stroke-width="1.6"/>
<line x1="965.95" y1="372.60" x2="965.95" y2="371.11" stroke="#000" stroke-width="1.6"/>
<line x1="982.92" y1="372.60" x2="982.92" y2="364.17" stroke="#000" stroke-width="1.6"/>
<line x1="1014.68" y1="372.60" x2="1014.68" y2="365.56" stroke="#000" stroke-width="1.6"/>
<line x1="1044.83" y1="372.60" x2="1044.83" y2="370.62" stroke="#000" stroke-width="1.6"/>
<line x1="1059.41" y1="372.60" x2="1059.41" y2="344.63" stroke="#000" stroke-width="1.6"/>
<line x1="1100.76" y1="372.60" x2="1100.76" y2="368.14" stroke="#000" stroke-width="1.6"/>
<line x1="1126.72" y1="372.60" x2="1126.72" y2="369.62" stroke="#000" stroke-width="1.6"/>
<line x1="1140.00" y1="372.60" x2="1140.00" y2="360.80" stroke="#000" stroke-width="1.6"/>
<line x1="1153.08" y1="372.60" x2="1153.08" y2="370.62" stroke="#000" stroke-width="1.6"/>
<line x1="1170.66" y1="372.60" x2="1170.66" y2="371.11" stroke="#000" stroke-width="1.6"/>
<line x1="1183.64" y1="372.60" x2="1183.64" y2="371.11" stroke="#000" stroke-width="1.6"/>
<line x1="1210.60" y1="372.60" x2="1210.60" y2="371.11" stroke="#000" stroke-width="1.6"/>
<line x1="1223.58" y1="372.60" x2="1223.58" y2="371.11" stroke="#000" stroke-width="1.6"/>
<line x1="1249.54" y1="372.60" x2="1249.54" y2="371.11" stroke="#000" stroke-width="1.6"/>
<line x1="1260.53" y1="372.60" x2="1260.53" y2="371.11" stroke="#000" stroke-width="1.6"/>
<line x1="1272.51" y1="372.60" x2="1272.51" y2="371.11" stroke="#000" stroke-width="1.6"/>
<line x1="809.97" y1="446.80" x2="809.97" y2="430.20" stroke="#000" stroke-width="1.6"/>
<line x1="858.00" y1="446.80" x2="858.00" y2="372.60" stroke="#000" stroke-width="1.6"/>
<line x1="942.78" y1="446.80" x2="942.78" y2="438.20" stroke="#000" stroke-width="1.6"/>
<line x1="963.75" y1="446.80" x2="963.75" y2="437.10" stroke="#000" stroke-width="1.6"/>
<line x1="973.34" y1="446.80" x2="973.34" y2="442.50" stroke="#000" stroke-width="1.6"/>
<line x1="992.61" y1="446.80" x2="992.61" y2="441.60" stroke="#000" stroke-width="1.6"/>
<line x1="1019.87" y1="446.80" x2="1019.87" y2="444.80" stroke="#000" stroke-width="1.6"/>
<line x1="1054.62" y1="446.80" x2="1054.62" y2="440.80" stroke="#000" stroke-width="1.6"/>
<line x1="1095.16" y1="446.80" x2="1095.16" y2="441.60" stroke="#000" stroke-width="1.6"/>
<line x1="1140.30" y1="446.80" x2="1140.30" y2="439.30" stroke="#000" stroke-width="1.6"/>
<line x1="1170.66" y1="446.80" x2="1170.66" y2="444.80" stroke="#000" stroke-width="1.6"/>
<line x1="1205.01" y1="446.80" x2="1205.01" y2="440.40" stroke="#000" stroke-width="1.6"/>
<line x1="1211.00" y1="446.80" x2="1211.00" y2="442.30" stroke="#000" stroke-width="1.6"/>
<line x1="1247.55" y1="446.80" x2="1247.55" y2="444.80" stroke="#000" stroke-width="1.6"/>
<line x1="1271.51" y1="446.80" x2="1271.51" y2="444.80" stroke="#000" stroke-width="1.6"/>
<rect x="715.8" y="26.8" width="565.20" height="420.00" fill="none" stroke="#000" stroke-width="1.6"/>
<line x1="715.80" y1="227.20" x2="1281.00" y2="227.20" stroke="#000" stroke-width="1.6"/>
<line x1="715.80" y1="299.00" x2="1281.00" y2="299.00" stroke="#000" stroke-width="1.6"/>
<line x1="715.80" y1="372.60" x2="1281.00" y2="372.60" stroke="#000" stroke-width="1.6"/>
<line x1="715.80" y1="446.80" x2="715.80" y2="453.30" stroke="#000" stroke-width="1.6"/>
<line x1="756.17" y1="446.80" x2="756.17" y2="450.80" stroke="#000" stroke-width="1.6"/>
<line x1="796.54" y1="446.80" x2="796.54" y2="453.30" stroke="#000" stroke-width="1.6"/>
<line x1="836.91" y1="446.80" x2="836.91" y2="450.80" stroke="#000" stroke-width="1.6"/>
<line x1="877.29" y1="446.80" x2="877.29" y2="453.30" stroke="#000" stroke-width="1.6"/>
<line x1="917.66" y1="446.80" x2="917.66" y2="450.80" stroke="#000" stroke-width="1.6"/>
<line x1="958.03" y1="446.80" x2="958.03" y2="453.30" stroke="#000" stroke-width="1.6"/>
<line x1="998.40" y1="446.80" x2="998.40" y2="450.80" stroke="#000" stroke-width="1.6"/>
<line x1="1038.77" y1="446.80" x2="1038.77" y2="453.30" stroke="#000" stroke-width="1.6"/>
<line x1="1079.14" y1="446.80" x2="1079.14" y2="450.80" stroke="#000" stroke-width="1.6"/>
<line x1="1119.51" y1="446.80" x2="1119.51" y2="453.30" stroke="#000" stroke-width="1.6"/>
<line x1="1159.89" y1="446.80" x2="1159.89" y2="450.80" stroke="#000" stroke-width="1.6"/>
<line x1="1200.26" y1="446.80" x2="1200.26" y2="453.30" stroke="#000" stroke-width="1.6"/>
<line x1="1240.63" y1="446.80" x2="1240.63" y2="450.80" stroke="#000" stroke-width="1.6"/>
<line x1="1281.00" y1="446.80" x2="1281.00" y2="453.30" stroke="#000" stroke-width="1.6"/>
<text x="192.9" y="197.5" font-family="Liberation Sans, Arial, sans-serif" font-size="25" text-anchor="middle" dominant-baseline="central">◊</text>
<text x="223.1" y="188.5" font-family="DejaVu Sans, sans-serif" font-size="22" text-anchor="middle" dominant-baseline="central">∇</text>
<text x="394.2" y="205.5" font-family="DejaVu Sans, sans-serif" font-size="22" text-anchor="middle" dominant-baseline="central">∇</text>
<text x="860.9" y="205.5" font-family="Liberation Sans, Arial, sans-serif" font-size="25" text-anchor="middle" dominant-baseline="central">◊</text>
<text x="894.2" y="204.8" font-family="DejaVu Sans, sans-serif" font-size="22" text-anchor="middle" dominant-baseline="central">∇</text>
<text x="1062.8" y="209.6" font-family="DejaVu Sans, sans-serif" font-size="22" text-anchor="middle" dominant-baseline="central">∇</text>
<text x="49.5" y="487.4" font-family="Liberation Sans, Arial, sans-serif" font-size="28.2" text-anchor="middle">10</text>
<text x="715.8" y="496.8" font-family="Liberation Sans, Arial, sans-serif" font-size="39" text-anchor="middle">10</text>
<text x="130.4" y="487.4" font-family="Liberation Sans, Arial, sans-serif" font-size="28.2" text-anchor="middle">20</text>
<text x="796.5" y="496.8" font-family="Liberation Sans, Arial, sans-serif" font-size="39" text-anchor="middle">20</text>
<text x="211.2" y="487.4" font-family="Liberation Sans, Arial, sans-serif" font-size="28.2" text-anchor="middle">30</text>
<text x="877.3" y="496.8" font-family="Liberation Sans, Arial, sans-serif" font-size="39" text-anchor="middle">30</text>
<text x="292.1" y="487.4" font-family="Liberation Sans, Arial, sans-serif" font-size="28.2" text-anchor="middle">40</text>
<text x="958.0" y="496.8" font-family="Liberation Sans, Arial, sans-serif" font-size="39" text-anchor="middle">40</text>
<text x="372.9" y="487.4" font-family="Liberation Sans, Arial, sans-serif" font-size="28.2" text-anchor="middle">50</text>
<text x="1038.8" y="496.8" font-family="Liberation Sans, Arial, sans-serif" font-size="39" text-anchor="middle">50</text>
<text x="453.8" y="487.4" font-family="Liberation Sans, Arial, sans-serif" font-size="28.2" text-anchor="middle">60</text>
<text x="1119.5" y="496.8" font-family="Liberation Sans, Arial, sans-serif" font-size="39" text-anchor="middle">60</text>
<text x="534.6" y="487.4" font-family="Liberation Sans, Arial, sans-serif" font-size="28.2" text-anchor="middle">70</text>
<text x="1200.3" y="496.8" font-family="Liberation Sans, Arial, sans-serif" font-size="39" text-anchor="middle">70</text>
<text x="615.5" y="487.4" font-family="Liberation Sans, Arial, sans-serif" font-size="28.2" text-anchor="middle">80</text>
<text x="1281.0" y="496.8" font-family="Liberation Sans, Arial, sans-serif" font-size="39" text-anchor="middle">80</text>
<rect x="1545.9" y="95.05" width="44.1" height="355.95" fill="#6272ff"/>
<rect x="1763.2" y="210.2" width="43.5" height="240.80" fill="#84cfff"/>
<rect x="1459.2" y="29" width="433.8" height="422.0" fill="none" stroke="#000" stroke-width="1.3"/>
<line x1="1452.70" y1="451.00" x2="1459.20" y2="451.00" stroke="#000" stroke-width="1.3"/>
<text x="1440.8" y="460.1" font-family="Liberation Sans, Arial, sans-serif" font-size="29.6" text-anchor="end">0.0</text>
<line x1="1455.70" y1="407.15" x2="1459.20" y2="407.15" stroke="#000" stroke-width="1.3"/>
<line x1="1452.70" y1="363.30" x2="1459.20" y2="363.30" stroke="#000" stroke-width="1.3"/>
<text x="1440.8" y="372.4" font-family="Liberation Sans, Arial, sans-serif" font-size="29.6" text-anchor="end">0.5</text>
<line x1="1455.70" y1="319.45" x2="1459.20" y2="319.45" stroke="#000" stroke-width="1.3"/>
<line x1="1452.70" y1="275.60" x2="1459.20" y2="275.60" stroke="#000" stroke-width="1.3"/>
<text x="1440.8" y="284.7" font-family="Liberation Sans, Arial, sans-serif" font-size="29.6" text-anchor="end">1.0</text>
<line x1="1455.70" y1="231.75" x2="1459.20" y2="231.75" stroke="#000" stroke-width="1.3"/>
<line x1="1452.70" y1="187.90" x2="1459.20" y2="187.90" stroke="#000" stroke-width="1.3"/>
<text x="1440.8" y="197.0" font-family="Liberation Sans, Arial, sans-serif" font-size="29.6" text-anchor="end">1.5</text>
<line x1="1455.70" y1="144.05" x2="1459.20" y2="144.05" stroke="#000" stroke-width="1.3"/>
<line x1="1452.70" y1="100.20" x2="1459.20" y2="100.20" stroke="#000" stroke-width="1.3"/>
<text x="1440.8" y="109.3" font-family="Liberation Sans, Arial, sans-serif" font-size="29.6" text-anchor="end">2.0</text>
<line x1="1455.70" y1="56.35" x2="1459.20" y2="56.35" stroke="#000" stroke-width="1.3"/>
<line x1="1459.20" y1="451.00" x2="1459.20" y2="454.50" stroke="#000" stroke-width="1.3"/>
<line x1="1567.80" y1="451.00" x2="1567.80" y2="457.70" stroke="#000" stroke-width="1.3"/>
<line x1="1676.30" y1="451.00" x2="1676.30" y2="454.50" stroke="#000" stroke-width="1.3"/>
<line x1="1784.60" y1="451.00" x2="1784.60" y2="457.70" stroke="#000" stroke-width="1.3"/>
<line x1="1893.00" y1="451.00" x2="1893.00" y2="454.50" stroke="#000" stroke-width="1.3"/>
<polyline points="1452.6,1395.4 1453.1,1395.8 1453.7,1396.4 1454.2,1395.7 1454.7,1396.0 1455.2,1396.5 1455.8,1396.6 1456.3,1396.6 1456.8,1394.7 1457.4,1394.0 1457.9,1394.2 1458.4,1395.6 1458.9,1395.9 1459.5,1396.2 1460.0,1396.3 1460.5,1395.8 1461.1,1395.3 1461.6,1394.9 1462.1,1395.0 1462.6,1395.0 1463.2,1394.8 1463.7,1394.3 1464.2,1394.6 1464.8,1395.4 1465.3,1395.3 1465.8,1394.3 1466.3,1394.1 1466.9,1394.7 1467.4,1395.0 1467.9,1395.1 1468.5,1395.3 1469.0,1395.2 1469.5,1394.5 1470.1,1394.4 1470.6,1394.5 1471.1,1395.7 1471.6,1395.7 1472.2,1395.8 1472.7,1395.6 1473.2,1396.0 1473.8,1395.1 1474.3,1394.6 1474.8,1395.2 1475.3,1395.5 1475.9,1395.2 1476.4,1394.2 1476.9,1393.7 1477.5,1393.7 1478.0,1393.8 1478.5,1394.1 1479.0,1394.6 1479.6,1394.9 1480.1,1394.3 1480.6,1394.0 1481.2,1394.6 1481.7,1394.8 1482.2,1395.5 1482.7,1395.2 1483.3,1394.7 1483.8,1394.4 1484.3,1394.8 1484.9,1395.1 1485.4,1394.2 1485.9,1394.7 1486.4,1395.0 1487.0,1394.8 1487.5,1393.3 1488.0,1393.7 1488.6,1394.4 1489.1,1394.4 1489.6,1393.7 1490.1,1392.9 1490.7,1393.1 1491.2,1392.9 1491.7,1393.6 1492.3,1392.7 1492.8,1392.4 1493.3,1392.2 1493.8,1393.3 1494.4,1392.7 1494.9,1391.7 1495.4,1390.7 1496.0,1390.8 1496.5,1390.7 1497.0,1391.2 1497.6,1391.9 1498.1,1392.2 1498.6,1391.3 1499.1,1391.1 1499.7,1391.2 1500.2,1391.5 1500.7,1390.7 1501.3,1389.9 1501.8,1390.1 1502.3,1390.9 1502.8,1390.9 1503.4,1389.6 1503.9,1388.3 1504.4,1388.0 1505.0,1388.5 1505.5,1388.5 1506.0,1388.4 1506.5,1387.8 1507.1,1387.8 1507.6,1387.7 1508.1,1387.7 1508.7,1387.0 1509.2,1386.6 1509.7,1385.3 1510.2,1384.4 1510.8,1383.7 1511.3,1385.2 1511.8,1386.1 1512.4,1386.3 1512.9,1384.9 1513.4,1385.2 1513.9,1384.4 1514.5,1383.3 1515.0,1382.5 1515.5,1383.2 1516.1,1383.4 1516.6,1382.3 1517.1,1381.0 1517.6,1379.2 1518.2,1378.5 1518.7,1378.2 1519.2,1378.2 1519.8,1376.8 1520.3,1376.0 1520.8,1375.0 1521.3,1375.4 1521.9,1375.4 1522.4,1375.5 1522.9,1373.7 1523.5,1372.3 1524.0,1371.4 1524.5,1371.6 1525.1,1370.8 1525.6,1369.9 1526.1,1369.2 1526.6,1368.1 1527.2,1365.2 1527.7,1363.3 1528.2,1362.8 1528.8,1363.1 1529.3,1362.2 1529.8,1360.2 1530.3,1357.5 1530.9,1355.2 1531.4,1353.8 1531.9,1352.5 1532.5,1350.8 1533.0,1350.1 1533.5,1349.0 1534.0,1347.2 1534.6,1345.2 1535.1,1343.8 1535.6,1342.6 1536.2,1340.8 1536.7,1338.5 1537.2,1336.4 1537.7,1334.9 1538.3,1333.2 1538.8,1330.8 1539.3,1328.1 1539.9,1327.7 1540.4,1326.5 1540.9,1325.3 1541.4,1322.5 1542.0,1320.5 1542.5,1317.6 1543.0,1315.0 1543.6,1313.4 1544.1,1311.2 1544.6,1309.5 1545.1,1307.9 1545.7,1306.1 1546.2,1303.7 1546.7,1300.2 1547.3,1297.1 1547.8,1293.1 1548.3,1291.6 1548.8,1290.3 1549.4,1289.0 1549.9,1285.7 1550.4,1283.0 1551.0,1280.4 1551.5,1277.8 1552.0,1273.6 1552.6,1270.9 1553.1,1267.7 1553.6,1265.7 1554.1,1263.1 1554.7,1261.2 1555.2,1258.2 1555.7,1254.3 1556.3,1249.5 1556.8,1245.0 1557.3,1241.6 1557.8,1237.8 1558.4,1234.2 1558.9,1231.7 1559.4,1230.0 1560.0,1228.5 1560.5,1225.3 1561.0,1222.7 1561.5,1218.5 1562.1,1215.3 1562.6,1210.0 1563.1,1207.2 1563.7,1205.0 1564.2,1202.7 1564.7,1199.6 1565.2,1196.1 1565.8,1193.0 1566.3,1189.3 1566.8,1186.1 1567.4,1183.6 1567.9,1180.4 1568.4,1178.6 1568.9,1175.1 1569.5,1172.0 1570.0,1165.8 1570.5,1160.3 1571.1,1157.4 1571.6,1155.9 1572.1,1153.1 1572.6,1148.9 1573.2,1145.5 1573.7,1142.0 1574.2,1139.7 1574.8,1137.6 1575.3,1133.4 1575.8,1128.1 1576.3,1125.6 1576.9,1122.0 1577.4,1117.4 1577.9,1114.0 1578.5,1112.9 1579.0,1110.5 1579.5,1106.8 1580.1,1101.6 1580.6,1097.8 1581.1,1096.4 1581.6,1097.1 1582.2,1094.9 1582.7,1088.7 1583.2,1084.9 1583.8,1083.3 1584.3,1083.0 1584.8,1080.6 1585.3,1076.3 1585.9,1074.7 1586.4,1072.9 1586.9,1073.0 1587.5,1070.1 1588.0,1070.5 1588.5,1067.7 1589.0,1065.8 1589.6,1063.6 1590.1,1065.1 1590.6,1064.7 1591.2,1062.4 1591.7,1058.2 1592.2,1054.8 1592.7,1052.7 1593.3,1051.6 1593.8,1051.4 1594.3,1051.1 1594.9,1049.9 1595.4,1049.4 1595.9,1049.1 1596.4,1047.5 1597.0,1046.5 1597.5,1047.8 1598.0,1048.3 1598.6,1045.5 1599.1,1044.5 1599.6,1046.0 1600.1,1048.1 1600.7,1046.1 1601.2,1047.3 1601.7,1047.7 1602.3,1046.6 1602.8,1044.9 1603.3,1044.1 1603.8,1043.9 1604.4,1043.8 1604.9,1045.7 1605.4,1047.8 1606.0,1048.5 1606.5,1046.2 1607.0,1044.6 1607.6,1043.0 1608.1,1044.6 1608.6,1043.6 1609.1,1045.9 1609.7,1049.5 1610.2,1053.0 1610.7,1052.9 1611.3,1052.1 1611.8,1054.3 1612.3,1054.9 1612.8,1054.4 1613.4,1056.0 1613.9,1058.4 1614.4,1056.9 1615.0,1055.6 1615.5,1055.0 1616.0,1054.5 1616.5,1054.5 1617.1,1058.4 1617.6,1063.1 1618.1,1064.2 1618.7,1062.3 1619.2,1061.0 1619.7,1061.6 1620.2,1064.1 1620.8,1065.4 1621.3,1067.4 1621.8,1068.6 1622.4,1071.5 1622.9,1074.2 1623.4,1075.6 1623.9,1076.1 1624.5,1076.8 1625.0,1076.6 1625.5,1076.0 1626.1,1073.2 1626.6,1073.0 1627.1,1075.7 1627.6,1080.0 1628.2,1081.4 1628.7,1083.0 1629.2,1084.4 1629.8,1086.4 1630.3,1091.2 1630.8,1093.8 1631.3,1093.7 1631.9,1090.7 1632.4,1093.0 1632.9,1095.9 1633.5,1097.5 1634.0,1098.6 1634.5,1099.6 1635.0,1100.8 1635.6,1100.7 1636.1,1103.0 1636.6,1106.2 1637.2,1106.9 1637.7,1109.1 1638.2,1110.8 1638.8,1112.2 1639.3,1110.6 1639.8,1112.8 1640.3,1117.0 1640.9,1120.7 1641.4,1122.1 1641.9,1123.1 1642.5,1125.4 1643.0,1125.8 1643.5,1128.3 1644.0,1131.1 1644.6,1136.6 1645.1,1139.6 1645.6,1139.4 1646.2,1138.7 1646.7,1141.2 1647.2,1145.8 1647.7,1146.7 1648.3,1147.1 1648.8,1149.1 1649.3,1151.4 1649.9,1152.6 1650.4,1152.8 1650.9,1155.8 1651.4,1156.8 1652.0,1158.3 1652.5,1160.1 1653.0,1164.3 1653.6,1166.9 1654.1,1167.8 1654.6,1169.2 1655.1,1170.2 1655.7,1171.9 1656.2,1172.5 1656.7,1174.3 1657.3,1176.9 1657.8,1181.9 1658.3,1184.7 1658.8,1185.0 1659.4,1184.8 1659.9,1186.5 1660.4,1189.2 1661.0,1191.7 1661.5,1194.7 1662.0,1194.9 1662.5,1195.5 1663.1,1197.1 1663.6,1201.3 1664.1,1203.4 1664.7,1203.1 1665.2,1202.9 1665.7,1205.3 1666.3,1207.3 1666.8,1207.6 1667.3,1207.9 1667.8,1210.3 1668.4,1212.2 1668.9,1214.2 1669.4,1216.2 1670.0,1219.4 1670.5,1220.8 1671.0,1222.5 1671.5,1222.4 1672.1,1226.5 1672.6,1228.9 1673.1,1230.8 1673.7,1231.2 1674.2,1233.4 1674.7,1235.1 1675.2,1236.0 1675.8,1238.5 1676.3,1241.0 1676.8,1242.1 1677.4,1242.0 1677.9,1243.2 1678.4,1245.6 1678.9,1247.8 1679.5,1248.5 1680.0,1250.4 1680.5,1253.3 1681.1,1255.3 1681.6,1256.2 1682.1,1257.2 1682.6,1258.3 1683.2,1258.2 1683.7,1259.7 1684.2,1260.7 1684.8,1263.0 1685.3,1263.6 1685.8,1265.9 1686.3,1267.2 1686.9,1268.3 1687.4,1268.2 1687.9,1269.3 1688.5,1271.3 1689.0,1271.9 1689.5,1272.4 1690.0,1273.5 1690.6,1274.3 1691.1,1275.7 1691.6,1277.6 1692.2,1279.8 1692.7,1279.8 1693.2,1279.7 1693.8,1279.7 1694.3,1281.6 1694.8,1283.8 1695.3,1285.2 1695.9,1286.3 1696.4,1287.0 1696.9,1287.8 1697.5,1289.0 1698.0,1290.8 1698.5,1292.1 1699.0,1291.5 1699.6,1290.3 1700.1,1291.0 1700.6,1293.4 1701.2,1297.2 1701.7,1298.3 1702.2,1298.5 1702.7,1298.6 1703.3,1299.3 1703.8,1300.6 1704.3,1301.3 1704.9,1302.1 1705.4,1302.6 1705.9,1302.9 1706.4,1302.6 1707.0,1303.4 1707.5,1305.9 1708.0,1306.8 1708.6,1306.3 1709.1,1307.0 1709.6,1308.4 1710.1,1308.9 1710.7,1308.9 1711.2,1308.9 1711.7,1309.1 1712.3,1308.7 1712.8,1308.8 1713.3,1309.3 1713.8,1310.5 1714.4,1311.1 1714.9,1311.7 1715.4,1313.8 1716.0,1315.1 1716.5,1315.7 1717.0,1314.9 1717.5,1315.7 1718.1,1316.4 1718.6,1317.7 1719.1,1317.5 1719.7,1318.1 1720.2,1319.4 1720.7,1320.9 1721.3,1321.7 1721.8,1322.3 1722.3,1323.0 1722.8,1323.3 1723.4,1322.9 1723.9,1323.5 1724.4,1324.6 1725.0,1326.3 1725.5,1326.4 1726.0,1327.5 1726.5,1328.7 1727.1,1329.6 1727.6,1329.2 1728.1,1329.4 1728.7,1330.3 1729.2,1331.7 1729.7,1332.1 1730.2,1331.4 1730.8,1331.2 1731.3,1332.1 1731.8,1333.3 1732.4,1334.4 1732.9,1335.5 1733.4,1336.3 1733.9,1336.2 1734.5,1336.6 1735.0,1337.7 1735.5,1338.0 1736.1,1337.3 1736.6,1337.2 1737.1,1338.5 1737.6,1339.7 1738.2,1339.7 1738.7,1341.1 1739.2,1341.3 1739.8,1342.0 1740.3,1341.5 1740.8,1342.5 1741.3,1343.2 1741.9,1344.5 1742.4,1344.6 1742.9,1345.2 1743.5,1346.1 1744.0,1347.2 1744.5,1348.1 1745.0,1348.0 1745.6,1347.5 1746.1,1347.3 1746.6,1347.9 1747.2,1349.0 1747.7,1349.8 1748.2,1349.9 1748.8,1349.1 1749.3,1350.7 1749.8,1354.1 1750.3,1355.7 1750.9,1354.2 1751.4,1352.9 1751.9,1353.2 1752.5,1353.8 1753.0,1354.3 1753.5,1354.7 1754.0,1354.9 1754.6,1354.6 1755.1,1355.0 1755.6,1356.0 1756.2,1356.6 1756.7,1357.2 1757.2,1356.8 1757.7,1356.0 1758.3,1356.4 1758.8,1358.9 1759.3,1360.8 1759.9,1360.4 1760.4,1359.2 1760.9,1358.8 1761.4,1359.7 1762.0,1361.2 1762.5,1361.5 1763.0,1361.7 1763.6,1361.5 1764.1,1362.2 1764.6,1361.9 1765.1,1362.3 1765.7,1362.2 1766.2,1362.5 1766.7,1363.6 1767.3,1364.5 1767.8,1365.0 1768.3,1364.8 1768.8,1364.6 1769.4,1364.9 1769.9,1365.9 1770.4,1367.2 1771.0,1367.5 1771.5,1367.1 1772.0,1367.3 1772.5,1367.2 1773.1,1367.5 1773.6,1367.6 1774.1,1369.1 1774.7,1369.6 1775.2,1369.2 1775.7,1369.7 1776.3,1369.9 1776.8,1369.3 1777.3,1368.6 1777.8,1369.4 1778.4,1369.4 1778.9,1369.0 1779.4,1370.0 1780.0,1371.7 1780.5,1372.4 1781.0,1372.4 1781.5,1373.7 1782.1,1373.9 1782.6,1373.9 1783.1,1373.3 1783.7,1373.8 1784.2,1373.5 1784.7,1373.8 1785.2,1374.5 1785.8,1375.0 1786.3,1374.3 1786.8,1374.2 1787.4,1374.4 1787.9,1374.9 1788.4,1375.4 1788.9,1375.7 1789.5,1376.1 1790.0,1376.0 1790.5,1376.8 1791.1,1376.7 1791.6,1377.8 1792.1,1378.4 1792.6,1378.3 1793.2,1377.6 1793.7,1377.6 1794.2,1378.5 1794.8,1378.7 1795.3,1379.3 1795.8,1380.1 1796.3,1380.5 1796.9,1380.3 1797.4,1380.5 1797.9,1380.6 1798.5,1380.4 1799.0,1380.4 1799.5,1379.9 1800.0,1379.4 1800.6,1379.1 1801.1,1379.9 1801.6,1380.9 1802.2,1382.2 1802.7,1382.6 1803.2,1383.3 1803.7,1383.4 1804.3,1382.9 1804.8,1381.4 1805.3,1380.8 1805.9,1381.8 1806.4,1382.6 1806.9,1383.3 1807.5,1383.0 1808.0,1383.2 1808.5,1382.8 1809.0,1382.2 1809.6,1381.7 1810.1,1381.5 1810.6,1382.4 1811.2,1383.4 1811.7,1384.0 1812.2,1383.3 1812.7,1383.5 1813.3,1384.5 1813.8,1385.8 1814.3,1386.0 1814.9,1385.7 1815.4,1385.2 1815.9,1385.6 1816.4,1386.7 1817.0,1386.8 1817.5,1386.2 1818.0,1385.5 1818.6,1385.7 1819.1,1386.7 1819.6,1386.6 1820.1,1386.4 1820.7,1386.4 1821.2,1386.9 1821.7,1387.8 1822.3,1388.2 1822.8,1388.4 1823.3,1387.6 1823.8,1387.1 1824.4,1386.8 1824.9,1387.9 1825.4,1389.0 1826.0,1389.0 1826.5,1388.3 1827.0,1388.8 1827.5,1389.8 1828.1,1389.8 1828.6,1389.0 1829.1,1388.5 1829.7,1389.5 1830.2,1389.3 1830.7,1390.1 1831.2,1390.2 1831.8,1389.9 1832.3,1388.6 1832.8,1388.8 1833.4,1390.1 1833.9,1389.8 1834.4,1390.1 1835.0,1390.0 1835.5,1390.3 1836.0,1390.4 1836.5,1390.4 1837.1,1390.8 1837.6,1391.0 1838.1,1391.4 1838.7,1391.0 1839.2,1390.7 1839.7,1390.3 1840.2,1390.3 1840.8,1390.9 1841.3,1391.6 1841.8,1391.7 1842.4,1391.2 1842.9,1391.0 1843.4,1390.9 1843.9,1391.3 1844.5,1391.6 1845.0,1391.6 1845.5,1391.9 1846.1,1391.9 1846.6,1391.6 1847.1,1391.5 1847.6,1391.9 1848.2,1393.0 1848.7,1393.0 1849.2,1393.5 1849.8,1393.2 1850.3,1393.2 1850.8,1392.6 1851.3,1391.9 1851.9,1391.5 1852.4,1391.5 1852.9,1392.1 1853.5,1392.5 1854.0,1393.1 1854.5,1393.9 1855.0,1394.0 1855.6,1392.9 1856.1,1391.9 1856.6,1392.3 1857.2,1392.5 1857.7,1392.6 1858.2,1392.9 1858.7,1394.1 1859.3,1394.4 1859.8,1394.3 1860.3,1393.0 1860.9,1392.5 1861.4,1393.1 1861.9,1394.3 1862.5,1394.3 1863.0,1394.5 1863.5,1394.5 1864.0,1393.9 1864.6,1393.1 1865.1,1393.0 1865.6,1393.8 1866.2,1394.8 1866.7,1394.7 1867.2,1393.4 1867.7,1393.4 1868.3,1394.2 1868.8,1394.4 1869.3,1393.7 1869.9,1393.7 1870.4,1393.9 1870.9,1394.2 1871.4,1394.2 1872.0,1394.0 1872.5,1394.9 1873.0,1396.3 1873.6,1396.7 1874.1,1396.4 1874.6,1395.3 1875.1,1394.6 1875.7,1393.8 1876.2,1394.2 1876.7,1394.5 1877.3,1394.2 1877.8,1394.2 1878.3,1394.1 1878.8,1394.1 1879.4,1393.8 1879.9,1393.7 1880.4,1394.1 1881.0,1394.1 1881.5,1394.9 1882.0,1395.1 1882.5,1395.9 1883.1,1395.4 1883.6,1395.3 1884.1,1395.1 1884.7,1395.6 1885.2,1395.0 1885.7,1394.1 1886.2,1393.5 1886.8,1393.5 1887.3,1393.8 1887.8,1393.3 1888.4,1393.7 1888.9,1394.7 1889.4,1395.2 1890.0,1394.9 1890.5,1394.9 1891.0,1395.9 1891.5,1396.4 1892.1,1396.2 1892.6,1396.2 1893.1,1395.7" fill="none" stroke="#ff0000" stroke-width="1.5" stroke-linejoin="round"/>
<polyline points="1452.6,1395.3 1453.1,1395.4 1453.7,1394.9 1454.2,1393.8 1454.7,1393.6 1455.2,1394.1 1455.8,1394.9 1456.3,1394.7 1456.8,1393.7 1457.4,1393.1 1457.9,1394.0 1458.4,1395.2 1458.9,1394.7 1459.5,1393.8 1460.0,1394.2 1460.5,1395.1 1461.1,1395.4 1461.6,1395.1 1462.1,1395.2 1462.6,1394.9 1463.2,1394.5 1463.7,1394.2 1464.2,1394.2 1464.8,1394.3 1465.3,1393.8 1465.8,1394.1 1466.3,1394.7 1466.9,1395.1 1467.4,1394.6 1467.9,1394.9 1468.5,1394.6 1469.0,1394.4 1469.5,1394.0 1470.1,1394.4 1470.6,1394.6 1471.1,1394.8 1471.6,1395.0 1472.2,1394.7 1472.7,1394.5 1473.2,1393.7 1473.8,1393.2 1474.3,1393.5 1474.8,1394.2 1475.3,1394.6 1475.9,1393.9 1476.4,1393.8 1476.9,1394.1 1477.5,1394.4 1478.0,1394.3 1478.5,1393.1 1479.0,1393.3 1479.6,1393.2 1480.1,1393.7 1480.6,1393.5 1481.2,1394.0 1481.7,1393.1 1482.2,1392.4 1482.7,1391.2 1483.3,1391.2 1483.8,1391.3 1484.3,1391.8 1484.9,1392.3 1485.4,1392.7 1485.9,1392.4 1486.4,1392.1 1487.0,1392.1 1487.5,1392.5 1488.0,1392.1 1488.6,1392.1 1489.1,1392.2 1489.6,1392.2 1490.1,1391.9 1490.7,1392.1 1491.2,1391.9 1491.7,1392.1 1492.3,1392.4 1492.8,1393.1 1493.3,1392.2 1493.8,1391.4 1494.4,1391.4 1494.9,1392.1 1495.4,1391.7 1496.0,1391.4 1496.5,1391.5 1497.0,1391.4 1497.6,1391.0 1498.1,1390.8 1498.6,1390.8 1499.1,1390.3 1499.7,1390.1 1500.2,1389.4 1500.7,1389.0 1501.3,1389.6 1501.8,1390.7 1502.3,1390.5 1502.8,1389.8 1503.4,1388.8 1503.9,1388.7 1504.4,1388.6 1505.0,1388.8 1505.5,1388.7 1506.0,1388.2 1506.5,1387.8 1507.1,1387.4 1507.6,1386.5 1508.1,1385.7 1508.7,1386.4 1509.2,1386.5 1509.7,1385.9 1510.2,1385.6 1510.8,1385.8 1511.3,1385.4 1511.8,1385.1 1512.4,1385.5 1512.9,1385.6 1513.4,1385.0 1513.9,1383.9 1514.5,1383.1 1515.0,1382.7 1515.5,1381.8 1516.1,1381.6 1516.6,1381.6 1517.1,1381.8 1517.6,1381.3 1518.2,1381.4 1518.7,1380.7 1519.2,1379.4 1519.8,1378.6 1520.3,1378.1 1520.8,1377.3 1521.3,1376.3 1521.9,1375.3 1522.4,1374.7 1522.9,1374.0 1523.5,1372.9 1524.0,1372.0 1524.5,1371.6 1525.1,1371.4 1525.6,1371.1 1526.1,1370.6 1526.6,1369.5 1527.2,1367.6 1527.7,1365.6 1528.2,1364.6 1528.8,1364.5 1529.3,1363.3 1529.8,1360.9 1530.3,1359.5 1530.9,1358.6 1531.4,1357.2 1531.9,1356.3 1532.5,1355.9 1533.0,1354.4 1533.5,1351.3 1534.0,1349.6 1534.6,1348.3 1535.1,1347.6 1535.6,1345.8 1536.2,1344.6 1536.7,1342.9 1537.2,1340.3 1537.7,1337.7 1538.3,1336.7 1538.8,1336.3 1539.3,1334.8 1539.9,1332.7 1540.4,1330.7 1540.9,1329.8 1541.4,1326.7 1542.0,1323.2 1542.5,1321.1 1543.0,1320.0 1543.6,1317.4 1544.1,1316.1 1544.6,1315.6 1545.1,1314.2 1545.7,1310.3 1546.2,1307.8 1546.7,1305.6 1547.3,1303.9 1547.8,1300.4 1548.3,1296.3 1548.8,1294.2 1549.4,1294.1 1549.9,1291.5 1550.4,1288.6 1551.0,1286.7 1551.5,1285.8 1552.0,1282.2 1552.6,1278.5 1553.1,1275.5 1553.6,1273.8 1554.1,1271.7 1554.7,1268.6 1555.2,1264.0 1555.7,1261.1 1556.3,1259.7 1556.8,1259.1 1557.3,1255.1 1557.8,1251.0 1558.4,1249.2 1558.9,1248.1 1559.4,1244.3 1560.0,1238.7 1560.5,1235.6 1561.0,1232.5 1561.5,1229.2 1562.1,1225.8 1562.6,1223.6 1563.1,1219.5 1563.7,1213.8 1564.2,1209.6 1564.7,1207.8 1565.2,1205.1 1565.8,1202.5 1566.3,1200.0 1566.8,1198.4 1567.4,1195.3 1567.9,1191.9 1568.4,1185.5 1568.9,1181.6 1569.5,1178.1 1570.0,1175.7 1570.5,1172.4 1571.1,1169.7 1571.6,1169.3 1572.1,1166.9 1572.6,1163.4 1573.2,1160.2 1573.7,1159.3 1574.2,1155.6 1574.8,1149.7 1575.3,1146.9 1575.8,1145.3 1576.3,1142.1 1576.9,1137.2 1577.4,1132.7 1577.9,1129.4 1578.5,1127.9 1579.0,1125.5 1579.5,1120.8 1580.1,1116.4 1580.6,1113.4 1581.1,1112.3 1581.6,1111.9 1582.2,1111.5 1582.7,1108.3 1583.2,1104.2 1583.8,1102.5 1584.3,1103.3 1584.8,1101.7 1585.3,1098.5 1585.9,1095.5 1586.4,1094.2 1586.9,1091.8 1587.5,1089.1 1588.0,1086.0 1588.5,1083.4 1589.0,1080.7 1589.6,1079.1 1590.1,1079.1 1590.6,1079.5 1591.2,1078.1 1591.7,1076.3 1592.2,1074.4 1592.7,1071.8 1593.3,1070.7 1593.8,1072.6 1594.3,1071.6 1594.9,1068.1 1595.4,1064.4 1595.9,1065.8 1596.4,1063.4 1597.0,1061.0 1597.5,1058.9 1598.0,1060.7 1598.6,1060.6 1599.1,1059.6 1599.6,1058.8 1600.1,1059.5 1600.7,1057.3 1601.2,1055.2 1601.7,1053.5 1602.3,1054.0 1602.8,1056.0 1603.3,1055.7 1603.8,1054.3 1604.4,1051.5 1604.9,1051.4 1605.4,1051.5 1606.0,1050.1 1606.5,1049.9 1607.0,1050.1 1607.6,1052.0 1608.1,1050.8 1608.6,1048.3 1609.1,1047.8 1609.7,1050.5 1610.2,1050.8 1610.7,1050.7 1611.3,1048.8 1611.8,1049.8 1612.3,1050.5 1612.8,1053.6 1613.4,1053.8 1613.9,1052.2 1614.4,1052.4 1615.0,1053.1 1615.5,1052.1 1616.0,1052.5 1616.5,1056.8 1617.1,1061.8 1617.6,1064.0 1618.1,1064.3 1618.7,1064.4 1619.2,1065.1 1619.7,1064.7 1620.2,1067.0 1620.8,1069.0 1621.3,1067.6 1621.8,1062.8 1622.4,1061.9 1622.9,1064.8 1623.4,1064.8 1623.9,1065.2 1624.5,1067.0 1625.0,1071.6 1625.5,1073.7 1626.1,1075.1 1626.6,1075.8 1627.1,1077.5 1627.6,1077.7 1628.2,1078.0 1628.7,1077.4 1629.2,1079.5 1629.8,1081.2 1630.3,1080.8 1630.8,1079.7 1631.3,1080.0 1631.9,1081.6 1632.4,1081.4 1632.9,1083.1 1633.5,1087.4 1634.0,1091.3 1634.5,1093.5 1635.0,1095.0 1635.6,1097.1 1636.1,1099.0 1636.6,1100.9 1637.2,1101.8 1637.7,1101.3 1638.2,1101.9 1638.8,1105.0 1639.3,1107.3 1639.8,1108.6 1640.3,1109.8 1640.9,1111.1 1641.4,1113.0 1641.9,1114.3 1642.5,1115.4 1643.0,1116.6 1643.5,1119.9 1644.0,1123.5 1644.6,1125.5 1645.1,1126.8 1645.6,1128.6 1646.2,1133.6 1646.7,1139.0 1647.2,1140.8 1647.7,1139.0 1648.3,1137.0 1648.8,1138.3 1649.3,1140.6 1649.9,1144.2 1650.4,1148.4 1650.9,1150.2 1651.4,1152.1 1652.0,1152.8 1652.5,1155.1 1653.0,1156.4 1653.6,1158.1 1654.1,1160.6 1654.6,1163.6 1655.1,1167.2 1655.7,1169.2 1656.2,1169.1 1656.7,1170.0 1657.3,1171.1 1657.8,1173.3 1658.3,1174.3 1658.8,1176.5 1659.4,1180.0 1659.9,1182.6 1660.4,1183.3 1661.0,1184.4 1661.5,1187.2 1662.0,1190.7 1662.5,1191.7 1663.1,1194.0 1663.6,1194.1 1664.1,1195.6 1664.7,1198.3 1665.2,1200.1 1665.7,1199.8 1666.3,1200.0 1666.8,1202.9 1667.3,1205.7 1667.8,1208.3 1668.4,1209.9 1668.9,1210.4 1669.4,1211.2 1670.0,1213.5 1670.5,1216.6 1671.0,1219.6 1671.5,1220.7 1672.1,1220.7 1672.6,1222.6 1673.1,1226.2 1673.7,1228.2 1674.2,1228.8 1674.7,1229.8 1675.2,1233.5 1675.8,1236.6 1676.3,1238.9 1676.8,1239.4 1677.4,1241.7 1677.9,1242.4 1678.4,1243.0 1678.9,1243.1 1679.5,1246.2 1680.0,1248.2 1680.5,1248.5 1681.1,1249.8 1681.6,1251.5 1682.1,1252.7 1682.6,1253.2 1683.2,1254.4 1683.7,1255.9 1684.2,1256.0 1684.8,1257.0 1685.3,1257.9 1685.8,1258.6 1686.3,1259.1 1686.9,1259.7 1687.4,1263.0 1687.9,1265.7 1688.5,1267.0 1689.0,1266.3 1689.5,1267.0 1690.0,1268.4 1690.6,1270.6 1691.1,1271.9 1691.6,1274.0 1692.2,1274.4 1692.7,1275.6 1693.2,1276.5 1693.8,1277.7 1694.3,1277.1 1694.8,1277.9 1695.3,1280.0 1695.9,1281.3 1696.4,1281.6 1696.9,1281.3 1697.5,1282.3 1698.0,1283.2 1698.5,1285.0 1699.0,1284.9 1699.6,1285.1 1700.1,1286.1 1700.6,1288.0 1701.2,1290.3 1701.7,1292.4 1702.2,1292.3 1702.7,1291.2 1703.3,1291.3 1703.8,1292.7 1704.3,1294.3 1704.9,1295.4 1705.4,1297.0 1705.9,1297.4 1706.4,1298.6 1707.0,1299.2 1707.5,1299.8 1708.0,1300.2 1708.6,1300.6 1709.1,1301.1 1709.6,1301.5 1710.1,1301.9 1710.7,1303.6 1711.2,1306.0 1711.7,1307.1 1712.3,1306.0 1712.8,1304.5 1713.3,1304.9 1713.8,1306.0 1714.4,1308.3 1714.9,1309.3 1715.4,1309.8 1716.0,1310.6 1716.5,1312.5 1717.0,1313.6 1717.5,1313.4 1718.1,1315.1 1718.6,1316.2 1719.1,1316.3 1719.7,1315.4 1720.2,1316.0 1720.7,1316.4 1721.3,1317.4 1721.8,1318.2 1722.3,1319.0 1722.8,1319.6 1723.4,1320.5 1723.9,1319.9 1724.4,1320.5 1725.0,1322.7 1725.5,1325.0 1726.0,1323.7 1726.5,1322.8 1727.1,1322.9 1727.6,1325.0 1728.1,1326.0 1728.7,1327.7 1729.2,1327.9 1729.7,1327.5 1730.2,1328.0 1730.8,1329.6 1731.3,1330.5 1731.8,1330.0 1732.4,1329.7 1732.9,1329.2 1733.4,1328.9 1733.9,1329.0 1734.5,1329.5 1735.0,1331.4 1735.5,1333.2 1736.1,1333.8 1736.6,1333.3 1737.1,1333.7 1737.6,1335.9 1738.2,1337.9 1738.7,1338.1 1739.2,1337.0 1739.8,1336.8 1740.3,1338.0 1740.8,1339.7 1741.3,1340.1 1741.9,1339.5 1742.4,1338.3 1742.9,1338.9 1743.5,1340.3 1744.0,1342.2 1744.5,1342.3 1745.0,1341.5 1745.6,1341.7 1746.1,1343.1 1746.6,1344.2 1747.2,1344.7 1747.7,1346.7 1748.2,1347.8 1748.8,1347.3 1749.3,1347.1 1749.8,1348.1 1750.3,1350.4 1750.9,1349.9 1751.4,1349.0 1751.9,1348.0 1752.5,1349.2 1753.0,1350.3 1753.5,1350.8 1754.0,1351.2 1754.6,1351.5 1755.1,1351.9 1755.6,1352.1 1756.2,1351.6 1756.7,1352.5 1757.2,1353.3 1757.7,1354.5 1758.3,1354.9 1758.8,1356.6 1759.3,1356.6 1759.9,1356.5 1760.4,1356.4 1760.9,1356.8 1761.4,1357.1 1762.0,1357.4 1762.5,1357.8 1763.0,1357.4 1763.6,1357.2 1764.1,1357.9 1764.6,1358.5 1765.1,1359.1 1765.7,1359.2 1766.2,1360.0 1766.7,1360.1 1767.3,1360.9 1767.8,1361.3 1768.3,1361.3 1768.8,1361.1 1769.4,1360.9 1769.9,1361.7 1770.4,1362.3 1771.0,1363.6 1771.5,1364.0 1772.0,1364.9 1772.5,1365.4 1773.1,1365.4 1773.6,1365.5 1774.1,1365.3 1774.7,1364.6 1775.2,1365.2 1775.7,1366.0 1776.3,1366.5 1776.8,1366.1 1777.3,1365.7 1777.8,1365.2 1778.4,1365.7 1778.9,1367.1 1779.4,1368.9 1780.0,1369.4 1780.5,1369.6 1781.0,1369.1 1781.5,1369.6 1782.1,1369.1 1782.6,1368.5 1783.1,1368.2 1783.7,1368.5 1784.2,1369.7 1784.7,1370.5 1785.2,1370.9 1785.8,1371.6 1786.3,1371.5 1786.8,1371.9 1787.4,1372.5 1787.9,1373.0 1788.4,1371.7 1788.9,1371.6 1789.5,1373.2 1790.0,1373.0 1790.5,1372.4 1791.1,1373.7 1791.6,1375.8 1792.1,1375.0 1792.6,1373.8 1793.2,1373.7 1793.7,1374.2 1794.2,1374.4 1794.8,1375.1 1795.3,1376.7 1795.8,1377.2 1796.3,1377.4 1796.9,1377.2 1797.4,1376.7 1797.9,1376.0 1798.5,1376.3 1799.0,1377.3 1799.5,1377.4 1800.0,1377.2 1800.6,1377.9 1801.1,1378.7 1801.6,1378.3 1802.2,1377.4 1802.7,1378.2 1803.2,1379.6 1803.7,1380.9 1804.3,1381.3 1804.8,1380.4 1805.3,1379.4 1805.9,1379.9 1806.4,1381.0 1806.9,1381.2 1807.5,1381.0 1808.0,1381.1 1808.5,1381.6 1809.0,1381.5 1809.6,1380.8 1810.1,1380.7 1810.6,1381.7 1811.2,1382.0 1811.7,1382.3 1812.2,1382.9 1812.7,1383.5 1813.3,1383.0 1813.8,1383.0 1814.3,1383.4 1814.9,1383.6 1815.4,1384.0 1815.9,1384.7 1816.4,1385.9 1817.0,1385.3 1817.5,1385.1 1818.0,1384.6 1818.6,1384.5 1819.1,1383.6 1819.6,1384.0 1820.1,1384.7 1820.7,1385.2 1821.2,1385.5 1821.7,1386.0 1822.3,1385.8 1822.8,1385.7 1823.3,1384.9 1823.8,1385.0 1824.4,1385.1 1824.9,1385.9 1825.4,1385.6 1826.0,1386.0 1826.5,1387.0 1827.0,1388.0 1827.5,1387.5 1828.1,1387.0 1828.6,1386.6 1829.1,1387.2 1829.7,1387.7 1830.2,1387.4 1830.7,1386.5 1831.2,1386.4 1831.8,1387.6 1832.3,1388.1 1832.8,1387.9 1833.4,1387.4 1833.9,1387.1 1834.4,1386.8 1835.0,1387.5 1835.5,1388.9 1836.0,1388.8 1836.5,1388.1 1837.1,1387.6 1837.6,1388.2 1838.1,1388.9 1838.7,1389.3 1839.2,1388.6 1839.7,1388.0 1840.2,1388.8 1840.8,1389.8 1841.3,1390.1 1841.8,1389.7 1842.4,1389.2 1842.9,1388.2 1843.4,1388.1 1843.9,1389.0 1844.5,1389.9 1845.0,1390.0 1845.5,1390.1 1846.1,1390.3 1846.6,1390.3 1847.1,1390.7 1847.6,1390.7 1848.2,1390.7 1848.7,1390.8 1849.2,1391.0 1849.8,1390.9 1850.3,1390.1 1850.8,1389.9 1851.3,1389.9 1851.9,1391.0 1852.4,1391.5 1852.9,1391.3 1853.5,1391.1 1854.0,1391.0 1854.5,1392.0 1855.0,1392.1 1855.6,1391.8 1856.1,1390.9 1856.6,1391.1 1857.2,1391.1 1857.7,1391.5 1858.2,1392.2 1858.7,1392.6 1859.3,1391.8 1859.8,1391.1 1860.3,1391.4 1860.9,1391.9 1861.4,1391.9 1861.9,1392.3 1862.5,1393.8 1863.0,1394.6 1863.5,1394.5 1864.0,1393.8 1864.6,1393.8 1865.1,1393.6 1865.6,1393.3 1866.2,1392.7 1866.7,1392.4 1867.2,1392.0 1867.7,1392.1 1868.3,1392.5 1868.8,1392.7 1869.3,1392.8 1869.9,1393.6 1870.4,1393.7 1870.9,1392.8 1871.4,1392.1 1872.0,1392.4 1872.5,1392.2 1873.0,1392.6 1873.6,1393.1 1874.1,1393.8 1874.6,1393.8 1875.1,1393.5 1875.7,1393.3 1876.2,1393.2 1876.7,1392.1 1877.3,1392.1 1877.8,1392.6 1878.3,1393.2 1878.8,1392.3 1879.4,1393.0 1879.9,1393.2 1880.4,1393.1 1881.0,1392.9 1881.5,1393.6 1882.0,1393.8 1882.5,1393.4 1883.1,1392.9 1883.6,1392.2 1884.1,1392.5 1884.7,1392.9 1885.2,1393.9 1885.7,1393.6 1886.2,1393.7 1886.8,1393.8 1887.3,1394.7 1887.8,1395.2 1888.4,1394.8 1888.9,1393.7 1889.4,1393.0 1890.0,1393.6 1890.5,1394.6 1891.0,1394.8 1891.5,1394.4 1892.1,1394.2 1892.6,1393.9 1893.1,1393.9" fill="none" stroke="#0000ff" stroke-width="1.5" stroke-linejoin="round"/>
<rect x="1717.8" y="1009.6" width="175.3" height="150.4" fill="#fff"/>
<rect x="1739.9" y="1026.2" width="44.8" height="133.8" fill="#0000ff"/>
<rect x="1829.1" y="1069.8" width="44.9" height="90.2" fill="#ff0000"/>
<polyline points="1717.8,1009.6 1717.8,1160 1893.1,1160" fill="none" stroke="#000" stroke-width="1.4"/>
<line x1="1717.80" y1="1160.00" x2="1717.80" y2="1163.50" stroke="#000" stroke-width="1.4"/>
<line x1="1762.20" y1="1160.00" x2="1762.20" y2="1165.60" stroke="#000" stroke-width="1.4"/>
<line x1="1807.30" y1="1160.00" x2="1807.30" y2="1164.00" stroke="#000" stroke-width="1.4"/>
<line x1="1850.90" y1="1160.00" x2="1850.90" y2="1165.60" stroke="#000" stroke-width="1.4"/>
<line x1="1893.10" y1="1160.00" x2="1893.10" y2="1163.50" stroke="#000" stroke-width="1.4"/>
<rect x="1452.6" y="1009.6" width="440.7" height="386.9" fill="none" stroke="#000" stroke-width="1.5"/>
<line x1="1446.40" y1="1396.50" x2="1452.60" y2="1396.50" stroke="#000" stroke-width="1.5"/>
<text x="1433.8" y="1406.2" font-family="Liberation Sans, Arial, sans-serif" font-size="27.4" text-anchor="end">0.0</text>
<line x1="1449.10" y1="1361.34" x2="1452.60" y2="1361.34" stroke="#000" stroke-width="1.5"/>
<line x1="1446.40" y1="1326.18" x2="1452.60" y2="1326.18" stroke="#000" stroke-width="1.5"/>
<text x="1433.8" y="1335.9" font-family="Liberation Sans, Arial, sans-serif" font-size="27.4" text-anchor="end">0.2</text>
<line x1="1449.10" y1="1291.02" x2="1452.60" y2="1291.02" stroke="#000" stroke-width="1.5"/>
<line x1="1446.40" y1="1255.86" x2="1452.60" y2="1255.86" stroke="#000" stroke-width="1.5"/>
<text x="1433.8" y="1265.6" font-family="Liberation Sans, Arial, sans-serif" font-size="27.4" text-anchor="end">0.4</text>
<line x1="1449.10" y1="1220.70" x2="1452.60" y2="1220.70" stroke="#000" stroke-width="1.5"/>
<line x1="1446.40" y1="1185.54" x2="1452.60" y2="1185.54" stroke="#000" stroke-width="1.5"/>
<text x="1433.8" y="1195.2" font-family="Liberation Sans, Arial, sans-serif" font-size="27.4" text-anchor="end">0.6</text>
<line x1="1449.10" y1="1150.38" x2="1452.60" y2="1150.38" stroke="#000" stroke-width="1.5"/>
<line x1="1446.40" y1="1115.22" x2="1452.60" y2="1115.22" stroke="#000" stroke-width="1.5"/>
<text x="1433.8" y="1124.9" font-family="Liberation Sans, Arial, sans-serif" font-size="27.4" text-anchor="end">0.8</text>
<line x1="1449.10" y1="1080.06" x2="1452.60" y2="1080.06" stroke="#000" stroke-width="1.5"/>
<line x1="1446.40" y1="1044.90" x2="1452.60" y2="1044.90" stroke="#000" stroke-width="1.5"/>
<text x="1433.8" y="1054.6" font-family="Liberation Sans, Arial, sans-serif" font-size="27.4" text-anchor="end">1.0</text>
<line x1="1452.60" y1="1396.50" x2="1452.60" y2="1400.50" stroke="#000" stroke-width="1.5"/>
<line x1="1481.98" y1="1396.50" x2="1481.98" y2="1402.80" stroke="#000" stroke-width="1.5"/>
<text x="1482.0" y="1438.9" font-family="Liberation Sans, Arial, sans-serif" font-size="27.5" text-anchor="middle">650</text>
<line x1="1511.36" y1="1396.50" x2="1511.36" y2="1400.50" stroke="#000" stroke-width="1.5"/>
<line x1="1540.74" y1="1396.50" x2="1540.74" y2="1402.80" stroke="#000" stroke-width="1.5"/>
<text x="1540.7" y="1438.9" font-family="Liberation Sans, Arial, sans-serif" font-size="27.5" text-anchor="middle">700</text>
<line x1="1570.12" y1="1396.50" x2="1570.12" y2="1400.50" stroke="#000" stroke-width="1.5"/>
<line x1="1599.50" y1="1396.50" x2="1599.50" y2="1402.80" stroke="#000" stroke-width="1.5"/>
<text x="1599.5" y="1438.9" font-family="Liberation Sans, Arial, sans-serif" font-size="27.5" text-anchor="middle">750</text>
<line x1="1628.88" y1="1396.50" x2="1628.88" y2="1400.50" stroke="#000" stroke-width="1.5"/>
<line x1="1658.26" y1="1396.50" x2="1658.26" y2="1402.80" stroke="#000" stroke-width="1.5"/>
<text x="1658.3" y="1438.9" font-family="Liberation Sans, Arial, sans-serif" font-size="27.5" text-anchor="middle">800</text>
<line x1="1687.64" y1="1396.50" x2="1687.64" y2="1400.50" stroke="#000" stroke-width="1.5"/>
<line x1="1717.02" y1="1396.50" x2="1717.02" y2="1402.80" stroke="#000" stroke-width="1.5"/>
<text x="1717.0" y="1438.9" font-family="Liberation Sans, Arial, sans-serif" font-size="27.5" text-anchor="middle">850</text>
<line x1="1746.40" y1="1396.50" x2="1746.40" y2="1400.50" stroke="#000" stroke-width="1.5"/>
<line x1="1775.78" y1="1396.50" x2="1775.78" y2="1402.80" stroke="#000" stroke-width="1.5"/>
<text x="1775.8" y="1438.9" font-family="Liberation Sans, Arial, sans-serif" font-size="27.5" text-anchor="middle">900</text>
<line x1="1805.16" y1="1396.50" x2="1805.16" y2="1400.50" stroke="#000" stroke-width="1.5"/>
<line x1="1834.54" y1="1396.50" x2="1834.54" y2="1402.80" stroke="#000" stroke-width="1.5"/>
<text x="1834.5" y="1438.9" font-family="Liberation Sans, Arial, sans-serif" font-size="27.5" text-anchor="middle">950</text>
<line x1="1863.92" y1="1396.50" x2="1863.92" y2="1400.50" stroke="#000" stroke-width="1.5"/>
<line x1="1893.30" y1="1396.50" x2="1893.30" y2="1402.80" stroke="#000" stroke-width="1.5"/>
<text x="1893.3" y="1438.9" font-family="Liberation Sans, Arial, sans-serif" font-size="27.5" text-anchor="middle">1000</text>
<g transform="translate(-0.72,30.34)"><text x="0" y="0" font-family="Liberation Sans, Arial, sans-serif" font-size="40.636" font-weight="bold">a</text></g>
<g transform="translate(666.34,31.16)"><text x="0" y="0" font-family="Liberation Sans, Arial, sans-serif" font-size="42.109" font-weight="bold">b</text></g>
<g transform="translate(1348.15,30.69)"><text x="0" y="0" font-family="Liberation Sans, Arial, sans-serif" font-size="41.737" font-weight="bold">c</text></g>
<g transform="translate(1345.73,636.65)"><text x="0" y="0" font-family="Liberation Sans, Arial, sans-serif" font-size="43.623" font-weight="bold">d</text></g>
<g transform="translate(436.99,71.60)"><text x="0" y="0" font-family="Liberation Sans, Arial, sans-serif" font-size="26.158"><tspan font-size="26.158">CSSG:3%Cr</tspan><tspan font-size="15.695" dy="-11.771">3+</tspan></text></g>
<g transform="translate(437.21,104.68)"><text x="0" y="0" font-family="Liberation Sans, Arial, sans-serif" font-size="27.018">1450 °C/air</text></g>
<g transform="translate(26.41,337.33) rotate(-90)"><text x="0" y="0" font-family="Liberation Sans, Arial, sans-serif" font-size="31.389">Intensity (a.u.)</text></g>
<g transform="translate(260.79,529.64)"><text x="0" y="0" font-family="Liberation Sans, Arial, sans-serif" font-size="28.220">2<tspan font-size="28.220" font-family="Liberation Serif, Times New Roman, serif" font-style="italic">θ</tspan><tspan font-size="28.220"> (degree)</tspan></text></g>
<g transform="translate(298.77,250.33)"><text x="0" y="0" font-family="Liberation Sans, Arial, sans-serif" font-size="24.512"><tspan font-size="24.512">Ca</tspan><tspan font-size="18.139" dy="8.089">3</tspan><tspan font-size="24.512" dy="-8.089">Sc</tspan><tspan font-size="18.139" dy="8.089">2</tspan><tspan font-size="24.512" dy="-8.089">Si</tspan><tspan font-size="18.139" dy="8.089">3</tspan><tspan font-size="24.512" dy="-8.089">O</tspan><tspan font-size="18.139" dy="8.089">12</tspan><tspan font-size="24.512" dy="-8.089">PDF#72-1969</tspan></text></g>
<g transform="translate(364.50,324.63)"><text x="0" y="0" font-family="Liberation Sans, Arial, sans-serif" font-size="24.343"><tspan font-size="24.343" font-family="DejaVu Sans, sans-serif">∇</tspan><tspan font-size="24.343"> Sc</tspan><tspan font-size="18.014" dy="8.033">2</tspan><tspan font-size="24.343" dy="-8.033">O</tspan><tspan font-size="18.014" dy="8.033">3</tspan><tspan font-size="24.343" dy="-8.033">PDF#84-1880</tspan></text></g>
<g transform="translate(385.50,395.88)"><text x="0" y="0" font-family="Liberation Sans, Arial, sans-serif" font-size="24.409"><tspan font-size="24.409">◊</tspan><tspan font-size="24.409"> SiO</tspan><tspan font-size="18.063" dy="8.055">2</tspan><tspan font-size="24.409" dy="-8.055">PDF#86-1564</tspan></text></g>
<g transform="translate(1103.39,66.63)"><text x="0" y="0" font-family="Liberation Sans, Arial, sans-serif" font-size="26.222"><tspan font-size="26.222">CSSG:3%Cr</tspan><tspan font-size="15.733" dy="-11.800">3+</tspan></text></g>
<g transform="translate(1104.17,99.23)"><text x="0" y="0" font-family="Liberation Sans, Arial, sans-serif" font-size="26.199">1450 °C / CO</text></g>
<g transform="translate(693.44,336.50) rotate(-90)"><text x="0" y="0" font-family="Liberation Sans, Arial, sans-serif" font-size="31.099">Intensity (a.u.)</text></g>
<g transform="translate(897.72,549.63)"><text x="0" y="0" font-family="Liberation Sans, Arial, sans-serif" font-size="39.540">2<tspan font-size="39.540" font-family="Liberation Serif, Times New Roman, serif" font-style="italic">θ</tspan><tspan font-size="39.540"> (degree)</tspan></text></g>
<g transform="translate(960.77,252.74)"><text x="0" y="0" font-family="Liberation Sans, Arial, sans-serif" font-size="24.585"><tspan font-size="24.585">Ca</tspan><tspan font-size="18.193" dy="8.113">3</tspan><tspan font-size="24.585" dy="-8.113">Sc</tspan><tspan font-size="18.193" dy="8.113">2</tspan><tspan font-size="24.585" dy="-8.113">Si</tspan><tspan font-size="18.193" dy="8.113">3</tspan><tspan font-size="24.585" dy="-8.113">O</tspan><tspan font-size="18.193" dy="8.113">12</tspan><tspan font-size="24.585" dy="-8.113">PDF#72-1969</tspan></text></g>
<g transform="translate(1036.90,327.12)"><text x="0" y="0" font-family="Liberation Sans, Arial, sans-serif" font-size="24.818"><tspan font-size="24.818" font-family="DejaVu Sans, sans-serif">∇</tspan><tspan font-size="24.818">Sc</tspan><tspan font-size="18.366" dy="8.190">2</tspan><tspan font-size="24.818" dy="-8.190">O</tspan><tspan font-size="18.366" dy="8.190">3</tspan><tspan font-size="24.818" dy="-8.190">PDF#84-1880</tspan></text></g>
<g transform="translate(1055.40,398.64)"><text x="0" y="0" font-family="Liberation Sans, Arial, sans-serif" font-size="24.937"><tspan font-size="24.937">◊</tspan><tspan font-size="24.937">SiO</tspan><tspan font-size="18.454" dy="8.229">2</tspan><tspan font-size="24.937" dy="-8.229">PDF#86-1564</tspan></text></g>
<g transform="translate(1376.59,365.28) rotate(-90)"><text x="0" y="0" font-family="Liberation Sans, Arial, sans-serif" font-size="31.958">Intensity (<tspan font-size="31.958">1 × 10</tspan><tspan font-size="19.175" dy="-14.062">3</tspan><tspan font-size="31.958" dy="14.062">)</tspan></text></g>
<g transform="translate(1546.29,85.70)"><text x="0" y="0" font-family="Liberation Sans, Arial, sans-serif" font-size="30.143" fill="#5468ff">CO</text></g>
<g transform="translate(1762.97,202.56)"><text x="0" y="0" font-family="Liberation Sans, Arial, sans-serif" font-size="35.919" fill="#4cbaff">Air</text></g>
<g transform="translate(1461.36,672.43)"><text x="0" y="0" font-family="Liberation Sans, Arial, sans-serif" font-size="42.833" fill="#fff">CL</text></g>
<g transform="translate(1597.55,800.58)"><text x="0" y="0" font-family="Liberation Serif, Times New Roman, serif" font-size="51.970" fill="#f00">II</text></g>
<g transform="translate(1611.97,876.18)"><text x="0" y="0" font-family="Liberation Serif, Times New Roman, serif" font-size="51.970" fill="#00f">I</text></g>
<g transform="translate(1560.40,1484.56)"><text x="0" y="0" font-family="Liberation Sans, Arial, sans-serif" font-size="30.053">Wavelength (nm)</text></g>
<g transform="translate(1367.28,1381.76) rotate(-90)"><text x="0" y="0" font-family="Liberation Sans, Arial, sans-serif" font-size="30.688">Normalized intensity (a.u.)</text></g>
<g transform="translate(1534.05,1366.64)"><text x="0" y="0" font-family="Liberation Sans, Arial, sans-serif" font-size="23.089" fill="#00f">FWHM = 1583 cm<tspan font-size="12.699" dy="-11.545">−1</tspan></text></g>
<g transform="translate(1534.05,1388.14)"><text x="0" y="0" font-family="Liberation Sans, Arial, sans-serif" font-size="23.089" fill="#f00">FWHM = 1590 cm<tspan font-size="12.699" dy="-11.545">−1</tspan></text></g>
<g transform="translate(1699.87,1160.06) rotate(-90)"><text x="0" y="0" font-family="Liberation Sans, Arial, sans-serif" font-size="19.492">Relative intensity</text></g>
<g transform="translate(1757.60,1198.41)"><text x="0" y="0" font-family="Liberation Serif, Times New Roman, serif" font-size="29.394">I</text></g>
<g transform="translate(1841.70,1198.41)"><text x="0" y="0" font-family="Liberation Serif, Times New Roman, serif" font-size="29.394">II</text></g>
<g transform="translate(59.23,665.59)"><text x="0" y="0" font-family="Liberation Sans, Arial, sans-serif" font-size="35.490" fill="#fff">SEM</text></g>
<g transform="translate(209.01,861.59)"><text x="0" y="0" font-family="Liberation Sans, Arial, sans-serif" font-size="34.157" fill="#fff">10 μm</text></g>
<g transform="translate(557.17,866.14)"><text x="0" y="0" font-family="Liberation Sans, Arial, sans-serif" font-size="35.765" fill="#fff">Ca</text></g>
<g transform="translate(270.52,1164.41)"><text x="0" y="0" font-family="Liberation Sans, Arial, sans-serif" font-size="36.689" fill="#fff">Sc</text></g>
<g transform="translate(566.03,1172.58)"><text x="0" y="0" font-family="Liberation Sans, Arial, sans-serif" font-size="36.188" fill="#fff">Si</text></g>
<g transform="translate(281.51,1454.29)"><text x="0" y="0" font-family="Liberation Sans, Arial, sans-serif" font-size="36.343" fill="#fff">O</text></g>
<g transform="translate(567.77,1460.60)"><text x="0" y="0" font-family="Liberation Sans, Arial, sans-serif" font-size="36.945" fill="#fff">Cr</text></g>
<g transform="translate(724.95,665.41)"><text x="0" y="0" font-family="Liberation Sans, Arial, sans-serif" font-size="34.951" fill="#fff">SEM</text></g>
<g transform="translate(889.89,867.94)"><text x="0" y="0" font-family="Liberation Sans, Arial, sans-serif" font-size="35.280" fill="#fff">5 μm</text></g>
<g transform="translate(1224.68,884.71)"><text x="0" y="0" font-family="Liberation Sans, Arial, sans-serif" font-size="35.968" fill="#fff">Ca</text></g>
<g transform="translate(941.21,1170.33)"><text x="0" y="0" font-family="Liberation Sans, Arial, sans-serif" font-size="36.460" fill="#fff">Sc</text></g>
<g transform="translate(1236.37,1172.31)"><text x="0" y="0" font-family="Liberation Sans, Arial, sans-serif" font-size="35.865" fill="#fff">Si</text></g>
<g transform="translate(950.02,1468.01)"><text x="0" y="0" font-family="Liberation Sans, Arial, sans-serif" font-size="36.840" fill="#fff">O</text></g>
<g transform="translate(1232.67,1468.20)"><text x="0" y="0" font-family="Liberation Sans, Arial, sans-serif" font-size="36.945" fill="#fff">Cr</text></g>
</svg>
</body></html>
